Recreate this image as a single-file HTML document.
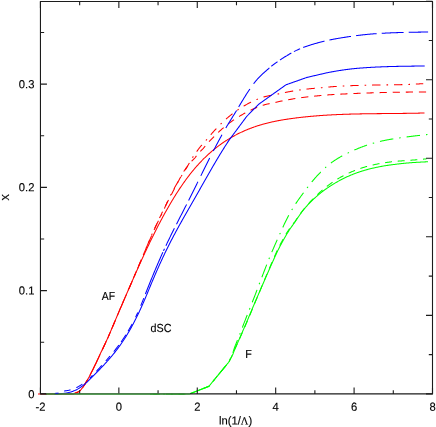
<!DOCTYPE html><html><head><meta charset="utf-8"><title>chart</title><style>
html,body{margin:0;padding:0;background:#fff;}
#c{will-change:transform;position:relative;width:436px;height:427px;overflow:hidden;font-family:"Liberation Sans",sans-serif;font-size:11.7px;color:#000;-webkit-text-stroke:0.15px #000;}
.t{position:absolute;left:0;top:0;white-space:nowrap;line-height:1;transform-origin:0 0;}
.sf{font-family:"Liberation Serif",serif;}
</style></head><body><div id="c">
<svg width="436" height="427" viewBox="0 0 436 427" style="position:absolute;left:0;top:0">
<path d="M38.00 393.90 L38.50 393.90 L39.00 393.90 L39.50 393.90 L40.00 393.90 L40.50 393.90 L41.00 393.90 L41.50 393.90 L42.00 393.90 L42.50 393.90 L43.00 393.90 L43.50 393.90 L44.00 393.90 L44.50 393.90 L45.00 393.90 L45.50 393.90 L46.00 393.90 L46.50 393.90 L47.00 393.90 L47.50 393.90 L48.00 393.90 L48.50 393.90 L49.00 393.90 L49.50 393.90 L50.00 393.90 L50.50 393.90 L51.00 393.90 L51.50 393.90 L52.00 393.90 L52.50 393.90 L53.00 393.90 L53.50 393.90 L54.00 393.90 L54.50 393.90 L55.00 393.90 L55.50 393.90 L56.00 393.90 L56.50 393.90 L57.00 393.90 L57.50 393.90 L58.00 393.90 L58.50 393.90 L59.00 393.90 L59.50 393.90 L60.00 393.90 L60.50 393.90 L61.00 393.90 L61.50 393.90 L62.00 393.90 L62.50 393.90 L63.00 393.90 L63.50 393.90 L64.00 393.90 L64.50 393.90 L65.00 393.90 L65.50 393.90 L66.00 393.90 L66.50 393.90 L67.00 393.90 L67.50 393.90 L68.00 393.90 L68.50 393.90 L69.00 393.90 L69.50 393.90 L70.00 393.90 L70.50 393.90 L71.00 393.90 L71.50 393.90 L72.00 393.90 L72.50 393.90 L73.00 393.90 L73.50 393.90 L74.00 393.74 L74.50 393.50 L75.00 393.27 L75.50 393.06 L76.00 392.84 L76.50 392.62 L77.00 392.39 L77.50 392.15 L78.00 391.88 L78.50 391.59 L79.00 391.26 L79.50 390.89 L80.00 390.48 L80.50 390.02 L81.00 389.52 L81.50 388.98 L82.00 388.39 L82.50 387.78 L83.00 387.13 L83.50 386.44 L84.00 385.73 L84.50 384.98 L85.00 384.21 L85.50 383.41 L86.00 382.58 L86.50 381.73 L87.00 380.86 L87.50 379.97 L88.00 379.05 L88.50 378.12 L89.00 377.17 L89.50 376.21 L90.00 375.24 L90.50 374.25 L91.00 373.25 L91.50 372.24 L92.00 371.23 L92.50 370.20 L93.00 369.18 L93.50 368.14 L94.00 367.11 L94.50 366.07 L95.00 365.03 L95.50 363.98 L96.00 362.92 L96.50 361.87 L97.00 360.81 L97.50 359.74 L98.00 358.68 L98.50 357.61 L99.00 356.53 L99.50 355.45 L100.00 354.37 L100.50 353.34 L101.00 352.30 L101.50 351.26 L102.00 350.21 L102.50 349.16 L103.00 348.11 L103.50 347.06 L104.00 346.00 L104.50 344.94 L105.00 343.88 L105.50 342.82 L106.00 341.75 L106.50 340.68 L107.00 339.61 L107.50 338.53 L108.00 337.46 L108.50 336.30 L109.00 335.13 L109.50 333.97 L110.00 332.80 L110.50 331.63 L111.00 330.46 L111.50 329.29 L112.00 328.11 L112.50 326.94 L113.00 325.76 L113.50 324.58 L114.00 323.40 L114.50 322.22 L115.00 321.04 L115.50 319.86 L116.00 318.67 L116.50 317.49 L117.00 316.30 L117.50 315.11 L118.00 313.93 L118.50 312.74 L119.00 311.55 L119.50 310.36 L120.00 309.17 L120.50 308.02 L121.00 306.86 L121.50 305.70 L122.00 304.55 L122.50 303.39 L123.00 302.23 L123.50 301.08 L124.00 299.92 L124.50 298.77 L125.00 297.61 L125.50 296.46 L126.00 295.30 L126.50 294.15 L127.00 293.00 L127.50 291.85 L128.00 290.69 L128.50 289.54 L129.00 288.39 L129.50 287.25 L130.00 286.10 L130.50 284.95 L131.00 283.81 L131.50 282.67 L132.00 281.53 L132.50 280.39 L133.00 279.25 L133.50 278.11 L134.00 276.98 L134.50 275.84 L135.00 274.71 L135.50 273.59 L136.00 272.46 L136.50 271.33 L137.00 270.21 L137.50 269.09 L138.00 267.97 L138.50 266.86 L139.00 265.75 L139.50 264.64 L140.00 263.53 L140.50 262.43 L141.00 261.32 L141.50 260.23 L142.00 259.13 L142.50 258.04 L143.00 256.95 L143.50 255.86 L144.00 254.78 L144.50 253.70 L145.00 252.63 L145.50 251.55 L146.00 250.48 L146.50 249.42 L147.00 248.36 L147.50 247.30 L148.00 246.25 L148.50 245.20 L149.00 244.15 L149.50 243.11 L150.00 242.08 L150.50 241.04 L151.00 240.01 L151.50 238.99 L152.00 237.97 L152.50 236.95 L153.00 235.94 L153.50 234.93 L154.00 233.93 L154.50 232.93 L155.00 231.93 L155.50 230.94 L156.00 229.96 L156.50 228.97 L157.00 228.00 L157.50 227.02 L158.00 226.05 L158.50 225.09 L159.00 224.13 L159.50 223.17 L160.00 222.22 L160.50 221.28 L161.00 220.33 L161.50 219.40 L162.00 218.46 L162.50 217.54 L163.00 216.61 L163.50 215.69 L164.00 214.78 L164.50 213.87 L165.00 212.97 L165.50 212.07 L166.00 211.17 L166.50 210.28 L167.00 209.40 L167.50 208.52 L168.00 207.64 L168.50 206.77 L169.00 205.90 L169.50 205.04 L170.00 204.19 L170.50 203.34 L171.00 202.49 L171.50 201.65 L172.00 200.82 L172.50 199.98 L173.00 199.16 L173.50 198.34 L174.00 197.52 L174.50 196.71 L175.00 195.91 L175.50 195.11 L176.00 194.32 L176.50 193.53 L177.00 192.74 L177.50 191.96 L178.00 191.19 L178.50 190.42 L179.00 189.66 L179.50 188.90 L180.00 188.15 L180.50 187.41 L181.00 186.67 L181.50 185.93 L182.00 185.20 L182.50 184.48 L183.00 183.76 L183.50 183.05 L184.00 182.34 L184.50 181.64 L185.00 180.94 L185.50 180.25 L186.00 179.56 L186.50 178.89 L187.00 178.21 L187.50 177.54 L188.00 176.88 L188.50 176.23 L189.00 175.58 L189.50 174.93 L190.00 174.29 L190.50 173.66 L191.00 173.03 L191.50 172.40 L192.00 171.79 L192.50 171.17 L193.00 170.57 L193.50 169.96 L194.00 169.37 L194.50 168.78 L195.00 168.19 L195.50 167.61 L196.00 167.03 L196.50 166.46 L197.00 165.90 L197.50 165.34 L198.00 164.78 L198.50 164.23 L199.00 163.68 L199.50 163.14 L200.00 162.61 L200.50 162.08 L201.00 161.55 L201.50 161.03 L202.00 160.51 L202.50 160.00 L203.00 159.49 L203.50 158.99 L204.00 158.49 L204.50 158.00 L205.00 157.51 L205.50 157.03 L206.00 156.55 L206.50 156.07 L207.00 155.60 L207.50 155.13 L208.00 154.67 L208.50 154.22 L209.00 153.76 L209.50 153.31 L210.00 152.87 L210.50 152.43 L211.00 151.99 L211.50 151.56 L212.00 151.13 L212.50 150.71 L213.00 150.29 L213.50 149.87 L214.00 149.46 L214.50 149.05 L215.00 148.65 L215.50 148.25 L216.00 147.86 L216.50 147.46 L217.00 147.07 L217.50 146.69 L218.00 146.31 L218.50 145.93 L219.00 145.56 L219.50 145.19 L220.00 144.83 L220.50 144.46 L221.00 144.10 L221.50 143.75 L222.00 143.40 L222.50 143.05 L223.00 142.71 L223.50 142.36 L224.00 142.03 L224.50 141.69 L225.00 141.36 L225.50 141.03 L226.00 140.71 L226.50 140.39 L227.00 140.07 L227.50 139.75 L228.00 139.44 L228.50 139.13 L229.00 138.83 L229.50 138.53 L230.00 138.23 L230.50 137.93 L231.00 137.64 L231.50 137.35 L232.00 137.06 L232.50 136.77 L233.00 136.49 L233.50 136.21 L234.00 135.94 L234.50 135.67 L235.00 135.40 L235.50 135.13 L236.00 134.86 L236.50 134.60 L237.00 134.34 L237.50 134.09 L238.00 133.83 L238.50 133.58 L239.00 133.33 L239.50 133.09 L240.00 132.85 L240.50 132.61 L241.00 132.37 L241.50 132.13 L242.00 131.90 L242.50 131.67 L243.00 131.44 L243.50 131.22 L244.00 131.00 L244.50 130.78 L245.00 130.56 L245.50 130.34 L246.00 130.13 L246.50 129.92 L247.00 129.71 L247.50 129.51 L248.00 129.31 L248.50 129.11 L249.00 128.91 L249.50 128.71 L250.00 128.52 L250.50 128.33 L251.00 128.14 L251.50 127.95 L252.00 127.77 L252.50 127.58 L253.00 127.40 L253.50 127.22 L254.00 127.05 L254.50 126.87 L255.00 126.70 L255.50 126.53 L256.00 126.36 L256.50 126.20 L257.00 126.03 L257.50 125.87 L258.00 125.71 L258.50 125.56 L259.00 125.40 L259.50 125.25 L260.00 125.09 L260.50 124.94 L261.00 124.80 L261.50 124.65 L262.00 124.50 L262.50 124.36 L263.00 124.22 L263.50 124.08 L264.00 123.94 L264.50 123.81 L265.00 123.67 L265.50 123.54 L266.00 123.41 L266.50 123.28 L267.00 123.16 L267.50 123.03 L268.00 122.91 L268.50 122.78 L269.00 122.66 L269.50 122.54 L270.00 122.43 L270.50 122.31 L271.00 122.19 L271.50 122.08 L272.00 121.97 L272.50 121.86 L273.00 121.75 L273.50 121.64 L274.00 121.54 L274.50 121.43 L275.00 121.33 L275.50 121.23 L276.00 121.12 L276.50 121.03 L277.00 120.93 L277.50 120.83 L278.00 120.73 L278.50 120.64 L279.00 120.55 L279.50 120.45 L280.00 120.36 L280.50 120.27 L281.00 120.18 L281.50 120.10 L282.00 120.01 L282.50 119.92 L283.00 119.84 L283.50 119.76 L284.00 119.67 L284.50 119.59 L285.00 119.51 L285.50 119.43 L286.00 119.36 L286.50 119.28 L287.00 119.20 L287.50 119.12 L288.00 119.05 L288.50 118.98 L289.00 118.90 L289.50 118.83 L290.00 118.76 L290.50 118.69 L291.00 118.62 L291.50 118.55 L292.00 118.48 L292.50 118.41 L293.00 118.34 L293.50 118.28 L294.00 118.21 L294.50 118.15 L295.00 118.08 L295.50 118.02 L296.00 117.95 L296.50 117.89 L297.00 117.83 L297.50 117.77 L298.00 117.71 L298.50 117.65 L299.00 117.59 L299.50 117.53 L300.00 117.47 L300.50 117.41 L301.00 117.35 L301.50 117.30 L302.00 117.24 L302.50 117.19 L303.00 117.13 L303.50 117.08 L304.00 117.02 L304.50 116.97 L305.00 116.92 L305.50 116.87 L306.00 116.81 L306.50 116.76 L307.00 116.71 L307.50 116.66 L308.00 116.61 L308.50 116.57 L309.00 116.52 L309.50 116.47 L310.00 116.42 L310.50 116.38 L311.00 116.33 L311.50 116.29 L312.00 116.24 L312.50 116.20 L313.00 116.15 L313.50 116.11 L314.00 116.07 L314.50 116.03 L315.00 115.98 L315.50 115.94 L316.00 115.90 L316.50 115.86 L317.00 115.82 L317.50 115.78 L318.00 115.74 L318.50 115.71 L319.00 115.67 L319.50 115.63 L320.00 115.60 L320.50 115.56 L321.00 115.52 L321.50 115.49 L322.00 115.45 L322.50 115.42 L323.00 115.38 L323.50 115.35 L324.00 115.32 L324.50 115.29 L325.00 115.25 L325.50 115.22 L326.00 115.19 L326.50 115.16 L327.00 115.13 L327.50 115.10 L328.00 115.07 L328.50 115.04 L329.00 115.01 L329.50 114.98 L330.00 114.96 L330.50 114.93 L331.00 114.90 L331.50 114.87 L332.00 114.85 L332.50 114.82 L333.00 114.80 L333.50 114.77 L334.00 114.75 L334.50 114.72 L335.00 114.70 L335.50 114.67 L336.00 114.65 L336.50 114.63 L337.00 114.60 L337.50 114.58 L338.00 114.56 L338.50 114.54 L339.00 114.52 L339.50 114.50 L340.00 114.48 L340.50 114.46 L341.00 114.44 L341.50 114.42 L342.00 114.40 L342.50 114.38 L343.00 114.36 L343.50 114.34 L344.00 114.32 L344.50 114.31 L345.00 114.29 L345.50 114.27 L346.00 114.25 L346.50 114.24 L347.00 114.22 L347.50 114.21 L348.00 114.19 L348.50 114.17 L349.00 114.16 L349.50 114.14 L350.00 114.13 L350.50 114.12 L351.00 114.10 L351.50 114.09 L352.00 114.07 L352.50 114.06 L353.00 114.05 L353.50 114.03 L354.00 114.02 L354.50 114.01 L355.00 114.00 L355.50 113.99 L356.00 113.97 L356.50 113.96 L357.00 113.95 L357.50 113.94 L358.00 113.93 L358.50 113.92 L359.00 113.91 L359.50 113.90 L360.00 113.89 L360.50 113.88 L361.00 113.87 L361.50 113.86 L362.00 113.85 L362.50 113.84 L363.00 113.83 L363.50 113.82 L364.00 113.82 L364.50 113.81 L365.00 113.80 L365.50 113.79 L366.00 113.78 L366.50 113.78 L367.00 113.77 L367.50 113.76 L368.00 113.75 L368.50 113.75 L369.00 113.74 L369.50 113.73 L370.00 113.73 L370.50 113.72 L371.00 113.71 L371.50 113.71 L372.00 113.70 L372.50 113.69 L373.00 113.69 L373.50 113.68 L374.00 113.68 L374.50 113.67 L375.00 113.66 L375.50 113.66 L376.00 113.65 L376.50 113.65 L377.00 113.64 L377.50 113.64 L378.00 113.63 L378.50 113.63 L379.00 113.62 L379.50 113.62 L380.00 113.61 L380.50 113.61 L381.00 113.60 L381.50 113.60 L382.00 113.59 L382.50 113.59 L383.00 113.58 L383.50 113.58 L384.00 113.58 L384.50 113.57 L385.00 113.57 L385.50 113.56 L386.00 113.56 L386.50 113.55 L387.00 113.55 L387.50 113.54 L388.00 113.54 L388.50 113.54 L389.00 113.53 L389.50 113.53 L390.00 113.52 L390.50 113.52 L391.00 113.51 L391.50 113.51 L392.00 113.50 L392.50 113.50 L393.00 113.49 L393.50 113.49 L394.00 113.49 L394.50 113.48 L395.00 113.48 L395.50 113.47 L396.00 113.47 L396.50 113.46 L397.00 113.46 L397.50 113.45 L398.00 113.45 L398.50 113.44 L399.00 113.44 L399.50 113.43 L400.00 113.43 L400.50 113.42 L401.00 113.41 L401.50 113.41 L402.00 113.40 L402.50 113.40 L403.00 113.39 L403.50 113.39 L404.00 113.38 L404.50 113.37 L405.00 113.37 L405.50 113.36 L406.00 113.35 L406.50 113.35 L407.00 113.34 L407.50 113.33 L408.00 113.33 L408.50 113.32 L409.00 113.31 L409.50 113.30 L410.00 113.30 L410.50 113.29 L411.00 113.28 L411.50 113.27 L412.00 113.26 L412.50 113.25 L413.00 113.25 L413.50 113.24 L414.00 113.23 L414.50 113.22 L415.00 113.21 L415.50 113.20 L416.00 113.19 L416.50 113.18 L417.00 113.17 L417.50 113.16 L418.00 113.15 L418.50 113.14 L419.00 113.13 L419.50 113.12 L420.00 113.10 L420.50 113.09 L421.00 113.08 L421.50 113.07 L422.00 113.06 L422.50 113.04 L423.00 113.03 L423.50 113.02 L424.00 113.01 L424.50 112.99" fill="none" stroke="#ff0000" stroke-width="1.05"/>
<path d="M74.50 393.38 L74.50 393.37 L75.00 393.10 L75.50 392.88 L76.00 392.68 L76.50 392.51 L77.00 392.34 L77.50 392.16 L78.00 391.97 L78.50 391.74 L79.00 391.47 L79.50 391.13 L80.00 390.73 L80.50 390.25 L80.75 389.99 M84.18 385.20 L84.20 385.17 L84.70 384.37 L85.20 383.55 L85.70 382.72 L86.20 381.88 L86.70 381.03 L87.20 380.17 L87.70 379.29 L87.86 379.01 M90.68 373.83 L90.70 373.78 L91.20 372.83 L91.71 371.87 L92.21 370.89 L92.71 369.91 L93.21 368.92 L93.71 367.92 L93.95 367.42 M96.53 362.11 L96.61 361.96 L97.11 360.90 L97.61 359.85 L98.11 358.78 L98.61 357.71 L99.11 356.63 L99.59 355.59 M102.11 350.26 L102.21 350.06 L102.71 349.00 L103.21 347.94 L103.71 346.87 L104.21 345.80 L104.71 344.73 L105.17 343.74 M107.65 338.38 L107.71 338.25 L108.21 337.13 L108.71 335.96 L109.21 334.79 L109.71 333.62 L110.21 332.44 L110.50 331.77 M112.80 326.34 L112.81 326.32 L113.31 325.14 L113.81 323.96 L114.31 322.78 L114.81 321.60 L115.31 320.42 L115.61 319.71 M117.90 314.27 L117.91 314.25 L118.41 313.06 L118.91 311.87 L119.41 310.68 L119.91 309.49 L120.41 308.32 L120.71 307.64 M123.04 302.22 L123.11 302.05 L123.61 300.89 L124.11 299.73 L124.61 298.56 L125.11 297.40 L125.61 296.24 L125.88 295.61 M128.21 290.19 L128.22 290.17 L128.72 289.01 L129.22 287.84 L129.72 286.67 L130.22 285.50 L130.72 284.33 L131.04 283.57 M133.37 278.14 L133.42 278.02 L133.92 276.85 L134.42 275.69 L134.92 274.52 L135.42 273.35 L135.92 272.18 L136.20 271.52 M138.52 266.10 L138.52 266.10 L139.02 264.93 L139.52 263.76 L140.02 262.59 L140.52 261.42 L141.02 260.25 L141.35 259.48 M143.67 254.06 L143.72 253.95 L144.22 252.79 L144.72 251.62 L145.22 250.46 L145.72 249.29 L146.22 248.13 L146.51 247.44 M148.85 242.02 L148.92 241.85 L149.42 240.69 L149.92 239.54 L150.42 238.38 L150.92 237.23 L151.42 236.09 L151.71 235.42 M154.09 230.02 L154.12 229.94 L154.62 228.82 L155.12 227.70 L155.62 226.58 L156.12 225.47 L156.62 224.37 L157.04 223.45 M159.52 218.09 L159.52 218.08 L160.02 217.01 L160.52 215.96 L161.02 214.91 L161.52 213.87 L162.02 212.84 L162.53 211.82 L162.63 211.60 M165.27 206.33 L165.33 206.21 L165.83 205.23 L166.33 204.25 L166.83 203.28 L167.33 202.31 L167.83 201.34 L168.33 200.38 L168.56 199.92 M171.29 194.69 L171.33 194.63 L171.83 193.67 L172.33 192.72 L172.83 191.76 L173.33 190.80 L173.83 189.85 L174.33 188.89 L174.63 188.31 M177.38 183.09 L177.43 183.01 L177.93 182.07 L178.43 181.13 L178.93 180.20 L179.43 179.27 L179.93 178.34 L180.43 177.42 L180.80 176.76 M183.67 171.60 L183.73 171.49 L184.23 170.69 L184.73 169.99 L185.23 169.30 L185.73 168.61 L186.23 167.93 L186.73 167.26 L187.23 166.60 L187.73 165.95 L187.88 165.76 M191.65 161.23 L191.73 161.14 L192.23 160.60 L192.73 160.07 L193.23 159.55 L193.73 159.04 L194.23 158.55 L194.73 158.07 L195.23 157.50 L195.73 156.84 L196.23 156.19 L196.46 155.90 M200.32 151.44 L200.34 151.42 L200.84 150.91 L201.34 150.40 L201.84 149.91 L202.34 149.43 L202.84 148.95 L203.34 148.38 L203.84 147.77 L204.34 147.17 L204.84 146.57 L205.19 146.15 M209.03 141.66 L209.04 141.65 L209.54 141.11 L210.04 140.63 L210.54 140.14 L211.04 139.65 L211.54 139.15 L212.04 138.65 L212.54 138.14 L213.04 137.62 L213.54 137.10 L214.04 136.58 L214.08 136.54 M218.32 132.43 L218.34 132.40 L218.84 131.92 L219.34 131.43 L219.84 130.95 L220.34 130.49 L220.84 130.04 L221.34 129.59 L221.84 129.15 L222.34 128.71 L222.84 128.28 L223.34 127.85 L223.65 127.59 M228.24 123.89 L228.34 123.82 L228.84 123.44 L229.34 123.06 L229.84 122.69 L230.34 122.32 L230.84 121.96 L231.34 121.60 L231.84 121.24 L232.34 120.89 L232.85 120.54 L233.35 120.19 L233.85 119.85 L234.09 119.69 M239.05 116.50 L239.15 116.44 L239.65 116.13 L240.15 115.83 L240.65 115.54 L241.15 115.24 L241.65 114.95 L242.15 114.67 L242.65 114.38 L243.15 114.10 L243.65 113.82 L244.15 113.54 L244.65 113.27 L245.15 113.00 L245.30 112.92 M250.56 110.26 L250.65 110.22 L251.15 109.98 L251.65 109.75 L252.15 109.52 L252.65 109.29 L253.15 109.06 L253.65 108.84 L254.15 108.62 L254.65 108.40 L255.15 108.19 L255.65 107.97 L256.15 107.76 L256.65 107.56 L257.15 107.35 M262.67 105.30 L262.75 105.27 L263.25 105.14 L263.75 105.00 L264.25 104.87 L264.75 104.74 L265.25 104.61 L265.75 104.48 L266.25 104.36 L266.75 104.23 L267.25 104.11 L267.75 103.99 L268.26 103.88 L268.76 103.76 L269.26 103.65 L269.66 103.56 M275.44 102.40 L275.46 102.39 L275.96 102.27 L276.46 102.14 L276.96 102.02 L277.46 101.90 L277.96 101.79 L278.46 101.67 L278.96 101.56 L279.46 101.45 L279.96 101.33 L280.46 101.23 L280.96 101.12 L281.46 101.01 L281.96 100.91 L282.46 100.81 L282.47 100.80 M288.27 99.73 L288.36 99.71 L288.86 99.63 L289.36 99.55 L289.86 99.46 L290.36 99.38 L290.86 99.28 L291.36 99.20 L291.86 99.11 L292.36 99.02 L292.86 98.93 L293.36 98.85 L293.86 98.77 L294.36 98.68 L294.86 98.60 L295.36 98.52 L295.36 98.52 M301.20 97.67 L301.26 97.66 L301.76 97.59 L302.26 97.53 L302.76 97.46 L303.26 97.40 L303.77 97.33 L304.27 97.27 L304.77 97.21 L305.27 97.15 L305.77 97.09 L306.27 97.03 L306.77 96.97 L307.27 96.91 L307.77 96.85 L308.27 96.80 L308.35 96.79 M314.22 96.17 L314.27 96.16 L314.77 96.11 L315.27 96.06 L315.77 96.01 L316.27 95.97 L316.77 95.92 L317.27 95.87 L317.77 95.82 L318.27 95.78 L318.77 95.73 L319.27 95.68 L319.77 95.64 L320.27 95.59 L320.77 95.55 L321.27 95.50 L321.38 95.49 M327.26 94.97 L327.27 94.97 L327.77 94.93 L328.27 94.89 L328.77 94.84 L329.27 94.80 L329.77 94.76 L330.27 94.72 L330.77 94.69 L331.27 94.67 L331.77 94.64 L332.27 94.61 L332.77 94.58 L333.27 94.55 L333.77 94.52 L334.27 94.49 L334.44 94.48 M340.33 94.17 L340.38 94.16 L340.88 94.14 L341.38 94.11 L341.88 94.09 L342.38 94.06 L342.88 94.03 L343.38 94.01 L343.88 93.98 L344.38 93.96 L344.88 93.94 L345.38 93.91 L345.88 93.89 L346.38 93.86 L346.88 93.84 L347.38 93.82 L347.53 93.81 M353.42 93.54 L353.48 93.54 L353.98 93.52 L354.48 93.50 L354.98 93.47 L355.48 93.45 L355.98 93.43 L356.48 93.41 L356.98 93.39 L357.48 93.37 L357.98 93.35 L358.48 93.33 L358.98 93.31 L359.48 93.29 L359.98 93.27 L360.48 93.25 L360.61 93.25 M366.51 93.03 L366.58 93.03 L367.08 93.01 L367.58 92.99 L368.08 92.97 L368.58 92.96 L369.08 92.94 L369.58 92.92 L370.08 92.91 L370.58 92.89 L371.08 92.88 L371.58 92.86 L372.08 92.84 L372.58 92.83 L373.08 92.81 L373.58 92.80 L373.71 92.79 M379.60 92.62 L379.69 92.62 L380.19 92.61 L380.69 92.60 L381.19 92.58 L381.69 92.57 L382.19 92.56 L382.69 92.55 L383.19 92.53 L383.69 92.52 L384.19 92.51 L384.69 92.50 L385.19 92.48 L385.69 92.47 L386.19 92.46 L386.69 92.45 L386.80 92.45 M392.70 92.33 L392.79 92.32 L393.29 92.31 L393.79 92.31 L394.29 92.30 L394.79 92.29 L395.29 92.28 L395.79 92.27 L396.29 92.26 L396.79 92.25 L397.29 92.25 L397.79 92.24 L398.29 92.23 L398.79 92.22 L399.29 92.21 L399.79 92.21 L399.90 92.20 M405.80 92.13 L405.89 92.13 L406.39 92.12 L406.89 92.12 L407.39 92.11 L407.89 92.11 L408.39 92.10 L408.89 92.10 L409.40 92.09 L409.90 92.09 L410.40 92.08 L410.90 92.08 L411.40 92.07 L411.90 92.07 L412.40 92.07 L412.90 92.06 L413.00 92.06 M418.90 92.03 L419.00 92.03 L419.50 92.03 L420.00 92.02 L420.50 92.02 L421.00 92.02 L421.50 92.02 L422.00 92.02 L422.50 92.02 L423.00 92.02 L423.50 92.01 L424.00 92.01 L424.50 92.01 L425.00 92.01 L425.50 92.01 L426.00 92.01 L426.10 92.01" fill="none" stroke="#ff0000" stroke-width="1.05"/>
<path d="M76.85 392.44 L76.90 392.42 L77.40 392.23 L77.90 392.02 L78.32 391.82 M82.50 387.74 L82.50 387.74 L83.00 387.03 L83.50 386.29 L84.00 385.52 L84.50 384.74 L85.00 383.95 L85.50 383.13 L86.00 382.31 L86.50 381.47 L86.99 380.64 M89.91 375.40 L90.00 375.22 L90.50 374.27 L90.66 373.99 M93.34 368.73 L93.41 368.60 L93.91 367.59 L94.41 366.57 L94.91 365.54 L95.41 364.50 L95.91 363.45 L96.41 362.40 L96.91 361.34 L96.99 361.17 M99.51 355.72 L99.51 355.72 L100.01 354.62 L100.18 354.27 M102.69 348.93 L102.71 348.89 L103.21 347.82 L103.71 346.75 L104.21 345.67 L104.71 344.59 L105.21 343.51 L105.71 342.43 L106.21 341.35 L106.23 341.31 M108.70 335.84 L108.71 335.81 L109.21 334.64 L109.32 334.37 M111.65 328.95 L111.71 328.80 L112.21 327.63 L112.71 326.46 L113.21 325.29 L113.71 324.12 L114.21 322.94 L114.71 321.77 L114.95 321.22 M117.30 315.70 L117.31 315.67 L117.81 314.50 L117.92 314.23 M120.24 308.80 L120.31 308.63 L120.81 307.49 L121.31 306.34 L121.81 305.19 L122.31 304.04 L122.81 302.90 L123.31 301.75 L123.59 301.10 M125.98 295.60 L126.01 295.53 L126.52 294.37 L126.62 294.13 M128.96 288.72 L129.02 288.59 L129.52 287.43 L130.02 286.27 L130.52 285.10 L131.02 283.94 L131.52 282.78 L132.02 281.61 L132.28 281.00 M134.64 275.48 L134.72 275.30 L135.22 274.13 L135.27 274.01 M137.58 268.58 L137.62 268.48 L138.12 267.31 L138.62 266.12 L139.12 264.94 L139.62 263.76 L140.12 262.57 L140.62 261.39 L140.85 260.85 M143.17 255.31 L143.22 255.20 L143.72 254.00 L143.79 253.84 M146.06 248.39 L146.12 248.25 L146.62 247.05 L147.12 245.84 L147.62 244.64 L148.12 243.43 L148.62 242.23 L149.12 241.03 L149.29 240.64 M151.63 235.12 L151.72 234.91 L152.22 233.77 L152.27 233.65 M154.71 228.27 L154.72 228.24 L155.22 227.19 L155.72 226.15 L156.22 225.14 L156.72 224.15 L157.22 223.17 L157.72 222.21 L158.22 221.25 L158.48 220.77 M161.21 215.43 L161.23 215.41 L161.73 214.37 L161.91 213.99 M164.34 208.62 L164.43 208.43 L164.93 207.30 L165.43 206.16 L165.93 205.04 L166.43 203.92 L166.93 202.82 L167.43 201.73 L167.79 200.95 M170.42 195.56 L170.43 195.54 L170.93 194.56 L171.15 194.14 M173.92 188.93 L173.93 188.92 L174.43 188.02 L174.93 187.12 L175.43 186.24 L175.93 185.36 L176.43 184.49 L176.93 183.63 L177.43 182.78 L177.93 181.93 L178.10 181.64 M181.19 176.50 L181.23 176.44 L181.73 175.62 L182.03 175.14 M185.14 170.12 L185.23 169.98 L185.73 169.19 L186.23 168.36 L186.73 167.50 L187.23 166.64 L187.73 165.79 L188.23 164.94 L188.73 164.09 L189.23 163.25 L189.44 162.91 M192.48 157.74 L192.53 157.66 L193.03 156.83 L193.34 156.39 M196.73 151.56 L196.74 151.56 L197.24 150.87 L197.74 150.18 L198.24 149.49 L198.74 148.81 L199.24 148.14 L199.74 147.47 L200.24 146.84 L200.74 146.26 L201.24 145.69 L201.74 145.12 L201.89 144.94 M205.94 140.51 L205.94 140.51 L206.44 139.90 L206.94 139.28 L206.95 139.27 M210.74 134.75 L210.84 134.64 L211.34 134.06 L211.84 133.49 L212.34 132.92 L212.84 132.36 L213.34 131.80 L213.84 131.25 L214.34 130.70 L214.84 130.15 L215.34 129.61 L215.84 129.07 L216.34 128.54 L216.37 128.51 M220.56 124.23 L220.64 124.15 L221.14 123.66 L221.64 123.17 L221.71 123.11 M226.04 119.10 L226.04 119.10 L226.54 118.66 L227.04 118.22 L227.54 117.79 L228.04 117.36 L228.54 116.94 L229.04 116.52 L229.54 116.10 L230.04 115.69 L230.54 115.29 L231.05 114.89 L231.55 114.49 L232.05 114.10 L232.50 113.74 M237.34 110.20 L237.35 110.20 L237.85 109.85 L238.35 109.51 L238.67 109.30 M243.65 106.14 L243.75 106.09 L244.25 105.79 L244.75 105.50 L245.25 105.21 L245.75 104.93 L246.25 104.64 L246.75 104.37 L247.25 104.09 L247.75 103.82 L248.25 103.55 L248.75 103.29 L249.25 103.03 L249.75 102.77 L250.25 102.52 L250.75 102.27 L251.03 102.13 M256.48 99.62 L256.55 99.58 L257.05 99.37 L257.55 99.16 L257.95 99.00 M263.50 97.01 L263.55 97.00 L264.05 96.87 L264.55 96.74 L265.05 96.62 L265.55 96.49 L266.06 96.37 L266.56 96.26 L267.06 96.14 L267.56 96.03 L268.06 95.92 L268.56 95.81 L269.06 95.70 L269.56 95.60 L270.06 95.50 L270.56 95.40 L271.06 95.30 L271.56 95.20 L271.69 95.17 M277.60 94.13 L277.66 94.11 L278.16 93.99 L278.66 93.87 L279.16 93.76 M284.93 92.51 L284.96 92.51 L285.46 92.41 L285.96 92.31 L286.46 92.21 L286.96 92.12 L287.46 92.02 L287.96 91.93 L288.46 91.83 L288.96 91.74 L289.46 91.65 L289.96 91.56 L290.46 91.47 L290.96 91.38 L291.46 91.29 L291.96 91.21 L292.46 91.12 L292.96 91.04 L293.19 91.00 M299.12 90.09 L299.16 90.08 L299.66 90.01 L300.16 89.94 L300.66 89.87 L300.70 89.87 M306.56 89.13 L306.57 89.13 L307.07 89.07 L307.57 89.01 L308.07 88.96 L308.57 88.90 L309.07 88.85 L309.57 88.80 L310.07 88.74 L310.57 88.69 L311.07 88.64 L311.57 88.59 L312.07 88.54 L312.57 88.49 L313.07 88.44 L313.57 88.40 L314.07 88.35 L314.57 88.30 L314.91 88.27 M320.89 87.76 L320.97 87.75 L321.47 87.70 L321.97 87.65 L322.47 87.60 L322.48 87.60 M328.36 87.05 L328.37 87.05 L328.87 87.00 L329.37 86.96 L329.87 86.92 L330.37 86.88 L330.87 86.84 L331.37 86.80 L331.87 86.76 L332.37 86.72 L332.87 86.68 L333.37 86.64 L333.87 86.60 L334.37 86.57 L334.87 86.53 L335.37 86.49 L335.88 86.46 L336.38 86.42 L336.73 86.40 M342.72 86.01 L342.78 86.01 L343.28 85.98 L343.78 85.95 L344.28 85.92 L344.32 85.92 M350.21 85.68 L350.28 85.68 L350.78 85.67 L351.28 85.65 L351.78 85.63 L352.28 85.62 L352.78 85.60 L353.28 85.58 L353.78 85.57 L354.28 85.55 L354.78 85.54 L355.28 85.52 L355.78 85.51 L356.28 85.49 L356.78 85.48 L357.28 85.47 L357.78 85.45 L358.28 85.44 L358.61 85.43 M364.60 85.28 L364.68 85.28 L365.18 85.27 L365.68 85.26 L366.18 85.24 L366.20 85.24 M372.10 85.11 L372.19 85.11 L372.69 85.10 L373.19 85.09 L373.69 85.08 L374.19 85.07 L374.69 85.06 L375.19 85.05 L375.69 85.03 L376.19 85.02 L376.69 85.01 L377.19 85.00 L377.69 84.99 L378.19 84.98 L378.69 84.97 L379.19 84.96 L379.69 84.94 L380.19 84.94 L380.50 84.93 M386.50 84.89 L386.59 84.89 L387.09 84.88 L387.59 84.88 L388.09 84.87 L388.10 84.87 M394.00 84.79 L394.09 84.79 L394.59 84.78 L395.09 84.77 L395.59 84.76 L396.09 84.75 L396.59 84.74 L397.09 84.74 L397.59 84.72 L398.09 84.71 L398.59 84.70 L399.09 84.69 L399.59 84.68 L400.09 84.67 L400.59 84.66 L401.09 84.64 L401.59 84.63 L402.09 84.62 L402.40 84.61 M408.39 84.42 L408.40 84.42 L408.90 84.40 L409.40 84.38 L409.90 84.36 L409.99 84.35 M415.89 84.08 L415.90 84.08 L416.40 84.05 L416.90 84.02 L417.40 84.00 L417.90 83.97 L418.40 83.94 L418.90 83.91 L419.40 83.88 L419.90 83.85 L420.40 83.82 L420.90 83.78 L421.40 83.75 L421.90 83.72 L422.40 83.68 L422.90 83.65 L423.20 83.64" fill="none" stroke="#ff0000" stroke-width="1.05"/>
<path d="M54.00 393.80 L54.50 393.80 L55.00 393.81 L55.50 393.82 L56.00 393.82 L56.50 393.82 L57.00 393.81 L57.50 393.81 L58.00 393.80 L58.50 393.78 L59.00 393.77 L59.50 393.75 L60.00 393.73 L60.50 393.70 L61.00 393.67 L61.50 393.63 L62.00 393.59 L62.50 393.54 L63.00 393.49 L63.51 393.44 L64.01 393.38 L64.51 393.31 L65.01 393.24 L65.51 393.17 L66.01 393.08 L66.51 392.99 L67.01 392.90 L67.51 392.80 L68.01 392.69 L68.51 392.58 L69.01 392.45 L69.51 392.33 L70.01 392.19 L70.51 392.05 L71.01 391.89 L71.51 391.74 L72.01 391.57 L72.51 391.39 L73.01 391.21 L73.51 391.02 L74.01 390.82 L74.51 390.61 L75.01 390.39 L75.51 390.16 L76.01 389.92 L76.51 389.68 L77.01 389.42 L77.51 389.15 L78.01 388.88 L78.51 388.59 L79.01 388.29 L79.51 387.99 L80.01 387.67 L80.51 387.34 L81.01 387.00 L81.51 386.65 L82.02 386.28 L82.52 385.91 L83.02 385.52 L83.52 385.12 L84.02 384.71 L84.52 384.29 L85.02 383.86 L85.52 383.42 L86.02 382.98 L86.52 382.52 L87.02 382.06 L87.52 381.59 L88.02 381.12 L88.52 380.64 L89.02 380.16 L89.52 379.67 L90.02 379.18 L90.52 378.69 L91.02 378.20 L91.52 377.71 L92.02 377.21 L92.52 376.71 L93.02 376.21 L93.52 375.71 L94.02 375.21 L94.52 374.70 L95.02 374.20 L95.52 373.69 L96.02 373.18 L96.52 372.67 L97.02 372.15 L97.52 371.64 L98.02 371.12 L98.52 370.60 L99.02 370.08 L99.52 369.56 L100.02 369.04 L100.53 368.51 L101.03 367.98 L101.53 367.45 L102.03 366.92 L102.53 366.39 L103.03 365.85 L103.53 365.32 L104.03 364.78 L104.53 364.24 L105.03 363.69 L105.53 363.15 L106.03 362.60 L106.53 362.05 L107.03 361.49 L107.53 360.93 L108.03 360.37 L108.53 359.81 L109.03 359.24 L109.53 358.66 L110.03 358.09 L110.53 357.51 L111.03 356.92 L111.53 356.33 L112.03 355.73 L112.53 355.13 L113.03 354.53 L113.53 353.92 L114.03 353.30 L114.53 352.68 L115.03 352.05 L115.53 351.42 L116.03 350.78 L116.53 350.13 L117.03 349.48 L117.53 348.82 L118.03 348.15 L118.53 347.47 L119.04 346.79 L119.54 346.10 L120.04 345.41 L120.54 344.70 L121.04 343.99 L121.54 343.27 L122.04 342.54 L122.54 341.81 L123.04 341.06 L123.54 340.31 L124.04 339.54 L124.54 338.77 L125.04 337.99 L125.54 337.20 L126.04 336.39 L126.54 335.58 L127.04 334.76 L127.54 333.94 L128.04 333.10 L128.54 332.25 L129.04 331.39 L129.54 330.53 L130.04 329.65 L130.54 328.76 L131.04 327.87 L131.54 326.96 L132.04 326.05 L132.54 325.12 L133.04 324.18 L133.54 323.24 L134.04 322.28 L134.54 321.32 L135.04 320.34 L135.54 319.36 L136.04 318.36 L136.54 317.36 L137.04 316.34 L137.55 315.32 L138.05 314.28 L138.55 313.23 L139.05 312.18 L139.55 311.11 L140.05 310.03 L140.55 308.94 L141.05 307.84 L141.55 306.73 L142.05 305.61 L142.55 304.48 L143.05 303.34 L143.55 302.19 L144.05 301.03 L144.55 299.87 L145.05 298.69 L145.55 297.51 L146.05 296.33 L146.55 295.13 L147.05 293.94 L147.55 292.74 L148.05 291.54 L148.55 290.33 L149.05 289.13 L149.55 287.92 L150.05 286.72 L150.55 285.52 L151.05 284.32 L151.55 283.12 L152.05 281.92 L152.55 280.73 L153.05 279.55 L153.55 278.37 L154.05 277.19 L154.55 276.02 L155.05 274.86 L155.55 273.70 L156.06 272.55 L156.56 271.40 L157.06 270.26 L157.56 269.13 L158.06 268.00 L158.56 266.88 L159.06 265.76 L159.56 264.65 L160.06 263.55 L160.56 262.45 L161.06 261.36 L161.56 260.27 L162.06 259.19 L162.56 258.12 L163.06 257.05 L163.56 255.99 L164.06 254.93 L164.56 253.89 L165.06 252.84 L165.56 251.81 L166.06 250.78 L166.56 249.76 L167.06 248.74 L167.56 247.73 L168.06 246.73 L168.56 245.73 L169.06 244.73 L169.56 243.75 L170.06 242.76 L170.56 241.79 L171.06 240.82 L171.56 239.85 L172.06 238.89 L172.56 237.93 L173.06 236.98 L173.56 236.03 L174.06 235.09 L174.57 234.15 L175.07 233.21 L175.57 232.28 L176.07 231.36 L176.57 230.43 L177.07 229.51 L177.57 228.60 L178.07 227.68 L178.57 226.77 L179.07 225.87 L179.57 224.96 L180.07 224.06 L180.57 223.16 L181.07 222.27 L181.57 221.38 L182.07 220.48 L182.57 219.60 L183.07 218.71 L183.57 217.82 L184.07 216.94 L184.57 216.06 L185.07 215.18 L185.57 214.30 L186.07 213.42 L186.57 212.55 L187.07 211.67 L187.57 210.80 L188.07 209.92 L188.57 209.05 L189.07 208.18 L189.57 207.30 L190.07 206.43 L190.57 205.56 L191.07 204.69 L191.57 203.81 L192.07 202.94 L192.57 202.07 L193.08 201.19 L193.58 200.32 L194.08 199.44 L194.58 198.57 L195.08 197.69 L195.58 196.81 L196.08 195.93 L196.58 195.05 L197.08 194.17 L197.58 193.29 L198.08 192.41 L198.58 191.52 L199.08 190.64 L199.58 189.76 L200.08 188.87 L200.58 187.99 L201.08 187.10 L201.58 186.22 L202.08 185.34 L202.58 184.45 L203.08 183.57 L203.58 182.68 L204.08 181.80 L204.58 180.92 L205.08 180.04 L205.58 179.16 L206.08 178.28 L206.58 177.40 L207.08 176.52 L207.58 175.64 L208.08 174.77 L208.58 173.89 L209.08 173.02 L209.58 172.14 L210.08 171.27 L210.58 170.40 L211.08 169.54 L211.59 168.67 L212.09 167.81 L212.59 166.95 L213.09 166.09 L213.59 165.23 L214.09 164.37 L214.59 163.52 L215.09 162.67 L215.59 161.82 L216.09 160.97 L216.59 160.13 L217.09 159.29 L217.59 158.45 L218.09 157.61 L218.59 156.78 L219.09 155.95 L219.59 155.13 L220.09 154.30 L220.59 153.49 L221.09 152.67 L221.59 151.86 L222.09 151.05 L222.59 150.24 L223.09 149.44 L223.59 148.64 L224.09 147.85 L224.59 147.06 L225.09 146.27 L225.59 145.49 L226.09 144.71 L226.59 143.94 L227.09 143.17 L227.59 142.41 L228.09 141.65 L228.59 140.90 L229.09 140.15 L229.59 139.44 L230.10 138.77 L230.60 138.10 L231.10 137.42 L231.60 136.75 L232.10 136.08 L232.60 135.40 L233.10 134.73 L233.60 134.06 L234.10 133.39 L234.60 132.71 L235.10 132.04 L235.60 131.37 L236.10 130.69 L236.60 130.02 L237.10 129.35 L237.60 128.68 L238.10 128.00 L238.60 127.33 L239.10 126.66 L239.60 125.98 L240.10 125.31 L240.60 124.64 L241.10 123.97 L241.60 123.29 L242.10 122.62 L242.60 121.95 L243.10 121.27 L243.60 120.60 L244.10 119.93 L244.60 119.26 L245.10 118.58 L245.60 117.91 L246.10 117.24 L246.60 116.56 L247.10 116.00 L247.60 115.50 L248.10 115.00 L248.60 114.50 L249.11 113.99 L249.61 113.49 L250.11 112.99 L250.61 112.49 L251.11 111.99 L251.61 111.49 L252.11 110.99 L252.61 110.49 L253.11 109.99 L253.61 109.49 L254.11 108.99 L254.61 108.49 L255.11 107.99 L255.61 107.49 L256.11 106.99 L256.61 106.49 L257.11 105.99 L257.61 105.49 L258.11 104.99 L258.61 104.49 L259.11 103.99 L259.61 103.61 L260.11 103.25 L260.61 102.89 L261.11 102.54 L261.61 102.18 L262.11 101.82 L262.61 101.47 L263.11 101.11 L263.61 100.75 L264.11 100.40 L264.61 100.04 L265.11 99.69 L265.61 99.33 L266.11 98.97 L266.61 98.62 L267.11 98.26 L267.62 97.90 L268.12 97.55 L268.62 97.19 L269.12 96.83 L269.62 96.48 L270.12 96.12 L270.62 95.76 L271.12 95.41 L271.62 95.05 L272.12 94.69 L272.62 94.34 L273.12 93.98 L273.62 93.62 L274.12 93.27 L274.62 92.91 L275.12 92.55 L275.62 92.20 L276.12 91.84 L276.62 91.48 L277.12 91.13 L277.62 90.77 L278.12 90.42 L278.62 90.06 L279.12 89.70 L279.62 89.35 L280.12 88.99 L280.62 88.63 L281.12 88.28 L281.62 87.92 L282.12 87.56 L282.62 87.21 L283.12 86.85 L283.62 86.49 L284.12 86.14 L284.62 85.78 L285.12 85.42 L285.62 85.07 L286.13 84.76 L286.63 84.58 L287.13 84.40 L287.63 84.23 L288.13 84.05 L288.63 83.87 L289.13 83.70 L289.63 83.52 L290.13 83.35 L290.63 83.17 L291.13 82.99 L291.63 82.82 L292.13 82.64 L292.63 82.46 L293.13 82.29 L293.63 82.11 L294.13 81.94 L294.63 81.76 L295.13 81.58 L295.63 81.41 L296.13 81.23 L296.63 81.05 L297.13 80.88 L297.63 80.70 L298.13 80.53 L298.63 80.35 L299.13 80.17 L299.63 80.00 L300.13 79.82 L300.63 79.64 L301.13 79.47 L301.63 79.29 L302.13 79.11 L302.63 78.94 L303.13 78.76 L303.63 78.59 L304.13 78.41 L304.64 78.23 L305.14 78.06 L305.64 77.88 L306.14 77.70 L306.64 77.53 L307.14 77.37 L307.64 77.25 L308.14 77.14 L308.64 77.02 L309.14 76.90 L309.64 76.79 L310.14 76.67 L310.64 76.56 L311.14 76.44 L311.64 76.32 L312.14 76.21 L312.64 76.09 L313.14 75.98 L313.64 75.86 L314.14 75.75 L314.64 75.63 L315.14 75.51 L315.64 75.40 L316.14 75.28 L316.64 75.17 L317.14 75.05 L317.64 74.93 L318.14 74.82 L318.64 74.70 L319.14 74.59 L319.64 74.47 L320.14 74.35 L320.64 74.24 L321.14 74.12 L321.64 74.01 L322.14 73.89 L322.64 73.77 L323.15 73.66 L323.65 73.54 L324.15 73.43 L324.65 73.31 L325.15 73.19 L325.65 73.08 L326.15 72.96 L326.65 72.85 L327.15 72.74 L327.65 72.64 L328.15 72.54 L328.65 72.44 L329.15 72.35 L329.65 72.25 L330.15 72.16 L330.65 72.06 L331.15 71.97 L331.65 71.88 L332.15 71.79 L332.65 71.70 L333.15 71.61 L333.65 71.52 L334.15 71.43 L334.65 71.35 L335.15 71.26 L335.65 71.18 L336.15 71.09 L336.65 71.01 L337.15 70.93 L337.65 70.84 L338.15 70.76 L338.65 70.68 L339.15 70.60 L339.65 70.52 L340.15 70.45 L340.65 70.37 L341.15 70.29 L341.66 70.22 L342.16 70.14 L342.66 70.07 L343.16 70.00 L343.66 69.92 L344.16 69.85 L344.66 69.78 L345.16 69.71 L345.66 69.64 L346.16 69.57 L346.66 69.51 L347.16 69.44 L347.66 69.37 L348.16 69.31 L348.66 69.24 L349.16 69.18 L349.66 69.11 L350.16 69.05 L350.66 68.99 L351.16 68.93 L351.66 68.87 L352.16 68.81 L352.66 68.76 L353.16 68.71 L353.66 68.66 L354.16 68.61 L354.66 68.57 L355.16 68.52 L355.66 68.47 L356.16 68.43 L356.66 68.39 L357.16 68.34 L357.66 68.30 L358.16 68.26 L358.66 68.21 L359.16 68.17 L359.66 68.13 L360.17 68.09 L360.67 68.05 L361.17 68.01 L361.67 67.97 L362.17 67.93 L362.67 67.90 L363.17 67.86 L363.67 67.82 L364.17 67.79 L364.67 67.75 L365.17 67.72 L365.67 67.68 L366.17 67.65 L366.67 67.62 L367.17 67.58 L367.67 67.55 L368.17 67.52 L368.67 67.49 L369.17 67.46 L369.67 67.43 L370.17 67.40 L370.67 67.37 L371.17 67.34 L371.67 67.31 L372.17 67.29 L372.67 67.26 L373.17 67.23 L373.67 67.20 L374.17 67.18 L374.67 67.15 L375.17 67.13 L375.67 67.10 L376.17 67.08 L376.67 67.06 L377.17 67.03 L377.67 67.01 L378.17 66.99 L378.68 66.96 L379.18 66.94 L379.68 66.92 L380.18 66.90 L380.68 66.88 L381.18 66.86 L381.68 66.84 L382.18 66.82 L382.68 66.80 L383.18 66.78 L383.68 66.76 L384.18 66.75 L384.68 66.73 L385.18 66.71 L385.68 66.69 L386.18 66.68 L386.68 66.66 L387.18 66.64 L387.68 66.63 L388.18 66.61 L388.68 66.60 L389.18 66.58 L389.68 66.57 L390.18 66.55 L390.68 66.54 L391.18 66.53 L391.68 66.51 L392.18 66.50 L392.68 66.49 L393.18 66.47 L393.68 66.46 L394.18 66.45 L394.68 66.44 L395.18 66.43 L395.68 66.41 L396.18 66.40 L396.68 66.39 L397.19 66.38 L397.69 66.37 L398.19 66.36 L398.69 66.35 L399.19 66.34 L399.69 66.33 L400.19 66.32 L400.69 66.31 L401.19 66.30 L401.69 66.29 L402.19 66.28 L402.69 66.28 L403.19 66.27 L403.69 66.26 L404.19 66.25 L404.69 66.24 L405.19 66.23 L405.69 66.23 L406.19 66.22 L406.69 66.21 L407.19 66.20 L407.69 66.20 L408.19 66.19 L408.69 66.18 L409.19 66.17 L409.69 66.17 L410.19 66.16 L410.69 66.15 L411.19 66.15 L411.69 66.14 L412.19 66.13 L412.69 66.13 L413.19 66.12 L413.69 66.11 L414.19 66.11 L414.69 66.10 L415.19 66.09 L415.70 66.09 L416.20 66.08 L416.70 66.08 L417.20 66.07 L417.70 66.06 L418.20 66.06 L418.70 66.05 L419.20 66.04 L419.70 66.04 L420.20 66.03 L420.70 66.03 L421.20 66.02 L421.70 66.01 L422.20 66.01 L422.70 66.00 L423.20 65.99 L423.70 65.99 L424.20 65.98 L424.70 65.98" fill="none" stroke="#0000ff" stroke-width="1.05"/>
<path d="M64.10 390.99 L64.60 390.94 L65.10 390.89 L65.60 390.83 L66.10 390.76 L66.60 390.68 L67.10 390.60 L67.60 390.51 L68.10 390.41 L68.60 390.31 L69.10 390.19 L69.60 390.07 L70.10 389.94 L70.50 389.83 M76.30 387.65 L76.80 387.41 L77.30 387.16 L77.80 386.90 L78.30 386.63 L78.80 386.35 L79.30 386.06 L79.80 385.77 L80.30 385.46 L80.80 385.14 L81.30 384.82 L81.80 384.49 L82.30 384.14 L82.40 384.07 M89.50 378.24 L90.00 377.77 L90.50 377.29 L91.00 376.81 L91.50 376.33 L92.00 375.84 L92.50 375.34 M96.40 371.31 L96.90 370.77 L97.40 370.23 L97.90 369.69 L98.40 369.15 L98.90 368.61 L99.40 368.06 L99.90 367.51 L100.40 366.96 L100.90 366.40 L101.40 365.85 L101.80 365.41 M105.80 360.94 L106.30 360.37 L106.80 359.81 L107.30 359.24 L107.80 358.67 L108.30 358.10 L108.80 357.52 L109.30 356.95 L109.80 356.36 L110.00 356.13 M113.80 351.58 L114.30 350.97 L114.80 350.34 L115.30 349.72 L115.80 349.08 L116.30 348.44 L116.80 347.80 L117.30 347.15 L117.80 346.49 L118.30 345.82 L118.80 345.15 M121.10 341.97 L121.60 341.25 L122.10 340.53 L122.60 339.80 L123.10 339.06 L123.60 338.31 L124.10 337.56 L124.60 336.79 L125.10 336.01 L125.60 335.23 L125.90 334.75 M128.00 331.32 L128.50 330.47 L129.00 329.61 L129.50 328.74 L130.00 327.86 L130.50 326.97 L131.00 326.07 L131.50 325.15 L132.00 324.22 L132.10 324.04 M135.60 317.15 L136.10 316.11 L136.60 315.06 L137.10 313.99 L137.60 312.90 L137.80 312.46 M140.70 305.80 L141.20 304.60 L141.70 303.37 L142.20 302.13 L142.70 300.88 L143.20 299.62 L143.70 298.35 L143.80 298.10 M145.40 294.04 L145.90 292.77 L146.40 291.51 L146.90 290.25 L147.40 289.00 L147.90 287.74 L148.40 286.49 L148.90 285.25 L149.40 284.00 L149.90 282.76 L150.40 281.53 L150.90 280.30 L151.40 279.07 L151.90 277.84 L152.40 276.62 L152.90 275.41 L153.40 274.20 L153.90 272.99 L154.40 271.79 L154.90 270.59 L155.40 269.40 L155.90 268.21 L156.40 267.03 L156.90 265.86 L157.40 264.68 L157.90 263.52 L158.40 262.36 L158.90 261.21 L159.40 260.06 L159.90 258.92 L160.40 257.78 L160.90 256.65 L161.40 255.53 L161.90 254.41 L162.40 253.30 L162.90 252.20 M163.50 250.88 L164.00 249.79 L164.50 248.71 M165.90 245.71 L166.40 244.66 L166.90 243.60 L167.40 242.55 L167.90 241.51 L168.40 240.47 L168.90 239.44 L169.40 238.41 L169.90 237.38 L170.40 236.36 L170.90 235.34 L171.40 234.33 L171.90 233.32 L172.40 232.32 L172.90 231.31 L173.40 230.31 L173.90 229.32 L174.40 228.32 M176.50 224.18 L177.00 223.19 L177.50 222.21 L178.00 221.23 L178.50 220.26 L179.00 219.28 L179.50 218.30 L180.00 217.33 L180.50 216.35 L181.00 215.38 L181.50 214.41 L182.00 213.43 L182.50 212.46 L183.00 211.48 L183.50 210.51 L184.00 209.53 L184.50 208.56 L185.00 207.58 L185.50 206.60 L186.00 205.62 L186.50 204.64 L186.60 204.44 M188.60 200.50 L189.10 199.50 L189.60 198.51 L190.10 197.51 L190.60 196.51 L191.10 195.51 L191.60 194.51 L192.10 193.50 L192.60 192.50 L193.10 191.49 L193.60 190.48 L194.10 189.47 L194.60 188.46 L195.10 187.45 L195.60 186.44 L196.10 185.42 L196.60 184.41 L197.10 183.39 L197.60 182.38 L197.90 181.77 M200.80 175.88 L201.30 174.87 L201.80 173.86 L202.30 172.84 L202.80 171.83 L203.30 170.82 L203.80 169.81 L204.30 168.80 L204.80 167.80 L205.30 166.79 L205.80 165.79 L206.30 164.79 L206.80 163.79 L207.30 162.79 L207.80 161.79 L208.30 160.80 L208.80 159.80 L209.30 158.81 L209.70 158.02 M213.30 151.00 L213.80 150.03 L214.30 149.07 L214.80 148.12 L215.30 147.17 L215.80 146.22 L216.30 145.27 L216.80 144.33 L217.30 143.39 L217.80 142.46 L218.30 141.53 L218.80 140.60 L219.30 139.67 L219.80 138.75 L220.30 137.83 L220.80 136.91 L221.30 136.00 L221.80 135.08 L222.00 134.72 M225.80 127.98 L226.30 127.16 L226.80 126.33 L227.30 125.51 L227.80 124.70 L228.30 123.88 L228.80 123.06 L229.30 122.25 L229.80 121.44 L230.30 120.63 L230.80 119.82 L231.30 119.01 L231.80 118.20 L232.30 117.39 L232.80 116.59 L233.30 115.78 L233.80 114.98 L234.30 114.17 L234.80 113.37 L235.30 112.57 L235.80 111.77 L236.30 110.94 L236.60 110.44 M253.60 83.79 L254.10 83.13 L254.60 82.49 L255.10 81.87 L255.60 81.26 L256.10 80.67 L256.60 80.09 L257.10 79.52 L257.60 78.96 L258.10 78.42 L258.60 77.88 L259.10 77.35 L259.60 76.84 L260.10 76.33 L260.60 75.83 L261.10 75.33 L261.60 74.85 L262.10 74.37 L262.60 73.91 L263.10 73.46 L263.60 73.01 L264.10 72.56 L264.60 72.12 L265.10 71.68 L265.60 71.24 L266.10 70.80 L266.60 70.37 L267.10 69.93 L267.60 69.49 L268.10 69.05 L268.60 68.61 L269.10 68.16 L269.40 67.90 M293.90 51.63 L294.40 51.38 L294.90 51.12 L295.40 50.88 L295.90 50.63 L296.40 50.39 L296.90 50.15 L297.40 49.92 L297.90 49.69 L298.40 49.46 L298.90 49.24 L299.40 49.02 L299.90 48.81 L300.10 48.72 M303.20 47.46 L303.70 47.28 L304.20 47.10 L304.70 46.92 L305.20 46.74 L305.70 46.56 L306.20 46.39 L306.70 46.22 L307.20 46.05 L307.70 45.89 L308.20 45.72 L308.70 45.56 L309.20 45.40 L309.70 45.24 L310.20 45.08 L310.70 44.93 L311.20 44.77 L311.70 44.62 L312.20 44.47 L312.70 44.32 L313.20 44.17 L313.70 44.02 L314.20 43.87 L314.70 43.73 L315.20 43.58 L315.70 43.44 L316.20 43.30 L316.70 43.15 L317.20 43.01 L317.70 42.87 L318.20 42.74 L318.70 42.60 L319.20 42.46 L319.70 42.33 L320.20 42.19 L320.70 42.06 L321.20 41.93 L321.70 41.79 L322.20 41.66 L322.70 41.53 L323.20 41.41 L323.70 41.28 L324.20 41.15 L324.50 41.08 M329.40 40.02 L329.90 39.92 L330.40 39.82 L330.90 39.72 L331.40 39.62 L331.90 39.52 L332.40 39.42 L332.90 39.33 L333.40 39.23 L333.90 39.14 L334.40 39.04 L334.90 38.95 L335.40 38.86 L335.90 38.77 L336.40 38.68 L336.90 38.59 L337.40 38.50 L337.90 38.41 L338.40 38.33 L338.90 38.24 L339.40 38.16 L339.90 38.07 L340.40 37.99 L340.90 37.91 L341.40 37.83 L341.90 37.75 L342.40 37.67 L342.90 37.59 L343.40 37.51 L343.90 37.43 L344.40 37.36 L344.90 37.28 L345.40 37.20 L345.90 37.12 L346.40 37.04 L346.90 36.97 L347.40 36.89 L347.90 36.81 L348.40 36.74 L348.90 36.66 L349.40 36.59 L349.90 36.51 L350.40 36.44 L350.90 36.37 L351.00 36.35 M356.10 35.66 L356.60 35.60 L357.10 35.53 L357.60 35.47 L358.10 35.41 L358.60 35.35 L359.10 35.29 L359.60 35.23 L360.10 35.17 L360.60 35.11 L361.10 35.05 L361.60 34.99 L362.10 34.94 L362.60 34.88 L363.10 34.83 L363.60 34.77 L364.10 34.72 L364.60 34.66 L365.10 34.61 L365.60 34.56 L366.10 34.51 L366.60 34.46 L367.10 34.40 L367.60 34.35 L368.10 34.31 L368.60 34.26 L369.10 34.21 L369.60 34.16 L370.10 34.12 L370.60 34.08 L371.10 34.04 L371.60 34.00 L372.10 33.96 L372.60 33.92 L373.10 33.88 L373.60 33.84 L374.10 33.81 L374.60 33.77 L375.10 33.74 L375.60 33.70 L376.10 33.67 L376.60 33.63 M381.70 33.32 L382.20 33.29 L382.70 33.26 L383.20 33.23 L383.70 33.20 L384.20 33.18 L384.70 33.15 L385.20 33.13 L385.70 33.10 L386.20 33.08 L386.70 33.05 L387.20 33.03 L387.70 33.00 L388.20 32.98 L388.70 32.96 L389.20 32.93 L389.70 32.91 L390.20 32.89 L390.70 32.87 L391.20 32.85 L391.70 32.83 L392.20 32.81 L392.70 32.79 L393.20 32.77 L393.70 32.75 L394.20 32.73 L394.70 32.71 L395.20 32.69 L395.70 32.67 L396.20 32.66 L396.70 32.64 L397.20 32.62 L397.70 32.61 L398.20 32.59 L398.70 32.57 L399.20 32.56 L399.70 32.54 L400.20 32.53 L400.70 32.51 L401.20 32.50 L401.70 32.48 L402.20 32.47 L402.70 32.46 L403.20 32.44 L403.60 32.43 M408.70 32.31 L409.20 32.30 L409.70 32.29 L410.20 32.28 L410.70 32.27 L411.20 32.26 L411.70 32.25 L412.20 32.24 L412.70 32.23 L413.20 32.23 L413.70 32.22 L414.20 32.21 L414.70 32.20 L415.20 32.19 L415.70 32.18 L416.20 32.17 L416.70 32.17 L417.20 32.16 L417.70 32.15 L418.20 32.14 L418.70 32.14 L419.20 32.13 L419.70 32.12 L420.20 32.11 L420.70 32.11 L421.20 32.10 L421.70 32.09 L422.20 32.09 L422.70 32.08 L423.20 32.07 L423.70 32.07 L424.20 32.06 L424.70 32.05 L425.20 32.05 L425.70 32.04 L426.20 32.04 L426.70 32.03 L427.20 32.03 L427.70 32.03 L428.10 32.03 M238.70 106.91 L239.20 106.06 L239.70 105.22 L240.20 104.38 L240.70 103.55 L241.20 102.71 L241.70 101.88 L242.20 101.05 L242.70 100.23 L243.20 99.41 L243.70 98.59 L244.20 97.78 L244.70 96.98 L245.20 96.18 L245.70 95.38 L246.20 94.59 L246.70 93.81 L247.20 93.04 L247.70 92.27 L248.20 91.52 L248.70 90.78 L249.20 90.05 L249.70 89.33 L249.90 89.05 M271.30 66.24 L271.80 65.87 L272.30 65.50 L272.80 65.13 L273.30 64.77 L273.80 64.40 L274.30 64.03 L274.80 63.66 L275.30 63.30 L275.80 62.94 L276.30 62.58 L276.80 62.22 L277.30 61.86 L277.50 61.72 M280.00 60.00 L280.50 59.66 L281.00 59.31 L281.50 58.98 L282.00 58.64 L282.50 58.32 L283.00 57.99 L283.50 57.68 L284.00 57.37 L284.50 57.06 L285.00 56.77 L285.50 56.47 L286.00 56.19 L286.50 55.90 L287.00 55.63 L287.50 55.31 L288.00 54.99 L288.50 54.68 L289.00 54.38 L289.50 54.07 L290.00 53.78 L290.50 53.49 L291.00 53.20 L291.30 53.03" fill="none" stroke="#0000ff" stroke-width="1.05"/>
<path d="M46.00 393.90 L46.50 393.90 L47.00 393.90 L47.50 393.90 L48.00 393.90 L48.50 393.90 L49.00 393.90 L49.50 393.90 L50.00 393.90 L50.50 393.90 L51.00 393.90 L51.50 393.90 L52.00 393.90 L52.50 393.90 L53.00 393.90 L53.50 393.90 L54.00 393.90 L54.50 393.90 L55.00 393.90 L55.50 393.90 L56.00 393.90 L56.50 393.90 L57.00 393.90 L57.50 393.90 L58.00 393.90 L58.50 393.90 L59.00 393.90 L59.50 393.90 L60.00 393.90 L60.50 393.90 L61.00 393.90 L61.50 393.90 L62.00 393.90 L62.50 393.90 L63.00 393.90 L63.50 393.90 L64.00 393.90 L64.50 393.90 L65.00 393.90 L65.50 393.90 L66.00 393.90 L66.50 393.90 L67.00 393.90 L67.50 393.90 L68.00 393.90 L68.50 393.90 L69.00 393.90 L69.50 393.90 L70.00 393.90 L70.50 393.90 L71.00 393.90 L71.50 393.90 L72.00 393.90 L72.50 393.90 L73.00 393.90 L73.50 393.90 L74.00 393.90 L74.50 393.90 L75.00 393.90 L75.50 393.90 L76.00 393.90 L76.50 393.90 L77.00 393.90 L77.50 393.90 L78.00 393.90 L78.50 393.90 L79.00 393.90 L79.50 393.90 L80.00 393.90 L80.50 393.90 L81.00 393.90 L81.50 393.90 L82.00 393.90 L82.50 393.90 L83.00 393.90 L83.50 393.90 L84.00 393.90 L84.50 393.90 L85.00 393.90 L85.50 393.90 L86.00 393.90 L86.50 393.90 L87.00 393.90 L87.50 393.90 L88.00 393.90 L88.50 393.90 L89.00 393.90 L89.50 393.90 L90.00 393.90 L90.50 393.90 L91.00 393.90 L91.50 393.90 L92.00 393.90 L92.50 393.90 L93.00 393.90 L93.50 393.90 L94.00 393.90 L94.50 393.90 L95.00 393.90 L95.50 393.90 L96.00 393.90 L96.50 393.90 L97.00 393.90 L97.50 393.90 L98.00 393.90 L98.50 393.90 L99.00 393.90 L99.50 393.90 L100.00 393.90 L100.50 393.90 L101.00 393.90 L101.50 393.90 L102.00 393.90 L102.50 393.90 L103.00 393.90 L103.50 393.90 L104.00 393.90 L104.50 393.90 L105.00 393.90 L105.50 393.90 L106.00 393.90 L106.50 393.90 L107.00 393.90 L107.50 393.90 L108.00 393.90 L108.50 393.90 L109.00 393.90 L109.50 393.90 L110.00 393.90 L110.50 393.90 L111.00 393.90 L111.50 393.90 L112.00 393.90 L112.50 393.90 L113.00 393.90 L113.50 393.90 L114.00 393.90 L114.50 393.90 L115.00 393.90 L115.50 393.90 L116.00 393.90 L116.50 393.90 L117.00 393.90 L117.50 393.90 L118.00 393.90 L118.50 393.90 L119.00 393.90 L119.50 393.90 L120.00 393.90 L120.50 393.90 L121.00 393.90 L121.50 393.90 L122.00 393.90 L122.50 393.90 L123.00 393.90 L123.50 393.90 L124.00 393.90 L124.50 393.90 L125.00 393.90 L125.50 393.90 L126.00 393.90 L126.50 393.90 L127.00 393.90 L127.50 393.90 L128.00 393.90 L128.50 393.90 L129.00 393.90 L129.50 393.90 L130.00 393.90 L130.50 393.90 L131.00 393.90 L131.50 393.90 L132.00 393.90 L132.50 393.90 L133.00 393.90 L133.50 393.90 L134.00 393.90 L134.50 393.90 L135.00 393.90 L135.50 393.90 L136.00 393.90 L136.50 393.90 L137.00 393.90 L137.50 393.90 L138.00 393.90 L138.50 393.90 L139.00 393.90 L139.50 393.90 L140.00 393.90 L140.50 393.90 L141.00 393.90 L141.50 393.90 L142.00 393.90 L142.50 393.90 L143.00 393.90 L143.50 393.90 L144.00 393.90 L144.50 393.90 L145.00 393.90 L145.50 393.90 L146.00 393.90 L146.50 393.90 L147.00 393.90 L147.50 393.90 L148.00 393.90 L148.50 393.90 L149.00 393.90 L149.50 393.90 L150.00 393.90 L150.50 393.90 L151.00 393.90 L151.50 393.90 L152.00 393.90 L152.50 393.90 L153.00 393.90 L153.50 393.90 L154.00 393.90 L154.50 393.90 L155.00 393.90 L155.50 393.90 L156.00 393.90 L156.50 393.90 L157.00 393.90 L157.50 393.90 L158.00 393.90 L158.50 393.90 L159.00 393.90 L159.50 393.90 L160.00 393.90 L160.50 393.90 L161.00 393.90 L161.50 393.90 L162.00 393.90 L162.50 393.90 L163.00 393.90 L163.50 393.90 L164.00 393.90 L164.50 393.90 L165.00 393.90 L165.50 393.90 L166.00 393.90 L166.50 393.90 L167.00 393.90 L167.50 393.90 L168.00 393.90 L168.50 393.90 L169.00 393.90 L169.50 393.90 L170.00 393.90 L170.50 393.90 L171.00 393.90 L171.50 393.90 L172.00 393.90 L172.50 393.90 L173.00 393.90 L173.50 393.90 L174.00 393.90 L174.50 393.90 L175.00 393.90 L175.50 393.90 L176.00 393.90 L176.50 393.90 L177.00 393.90 L177.50 393.90 L178.00 393.90 L178.50 393.90 L179.00 393.90 L179.50 393.90 L180.00 393.90 L180.50 393.90 L181.00 393.90 L181.50 393.90 L182.00 393.90 L182.50 393.90 L183.00 393.90 L183.50 393.90 L184.00 393.90 L184.50 393.90 L185.00 393.90 L185.50 393.90 L186.00 393.90 L186.50 393.90 L187.00 393.90 L187.50 393.90 L188.00 393.90 L188.50 393.90 L189.00 393.90 L189.50 393.90 L190.00 393.74 L190.50 393.55 L191.00 393.35 L191.50 393.15 L192.00 392.95 L192.50 392.76 L193.00 392.56 L193.50 392.36 L194.00 392.17 L194.50 391.97 L195.00 391.77 L195.50 391.58 L196.00 391.38 L196.50 391.18 L197.00 390.99 L197.50 390.79 L198.00 390.59 L198.50 390.40 L199.00 390.20 L199.50 390.00 L200.00 389.80 L200.50 389.61 L201.00 389.41 L201.50 389.21 L202.00 389.02 L202.50 388.82 L203.00 388.62 L203.50 388.43 L204.00 388.23 L204.50 388.03 L205.00 387.84 L205.50 387.64 L206.00 387.44 L206.50 387.25 L207.00 387.05 L207.50 386.85 L208.00 386.65 L208.50 386.46 L209.00 386.18 L209.50 385.57 L210.00 384.96 L210.50 384.35 L211.00 383.75 L211.50 383.14 L212.00 382.53 L212.50 381.92 L213.00 381.31 L213.50 380.71 L214.00 380.10 L214.50 379.49 L215.00 378.88 L215.50 378.27 L216.00 377.67 L216.50 377.06 L217.00 376.45 L217.50 375.84 L218.00 375.23 L218.50 374.63 L219.00 374.02 L219.50 373.41 L220.00 372.80 L220.50 372.19 L221.00 371.59 L221.50 370.98 L222.00 370.37 L222.50 369.76 L223.00 369.15 L223.50 368.55 L224.00 367.94 L224.50 367.33 L225.00 366.72 L225.50 366.11 L226.00 365.51 L226.50 364.90 L227.00 364.29 L227.50 363.68 L228.00 363.07 L228.50 362.46 L229.00 361.72 L229.50 360.77 L230.00 359.81 L230.50 358.85 L231.00 357.88 L231.50 356.90 L232.00 355.92 L232.50 354.94 L233.00 353.95 L233.50 352.61 L234.00 351.26 L234.50 349.91 L235.00 348.66 L235.50 347.56 L236.00 346.46 L236.50 345.35 L237.00 344.23 L237.50 343.12 L238.00 341.99 L238.50 340.87 L239.00 339.74 L239.50 338.60 L240.00 337.46 L240.50 336.32 L241.00 335.17 L241.50 334.02 L242.00 332.87 L242.50 331.71 L243.00 330.55 L243.50 329.39 L244.00 328.22 L244.50 327.07 L245.00 325.92 L245.50 324.76 L246.00 323.60 L246.50 322.43 L247.00 321.26 L247.50 320.09 L248.00 318.92 L248.50 317.75 L249.00 316.57 L249.50 315.39 L250.00 314.21 L250.50 313.02 L251.00 311.84 L251.50 310.65 L252.00 309.46 L252.50 308.27 L253.00 307.07 L253.50 305.88 L254.00 304.68 L254.50 303.48 L255.00 302.28 L255.50 301.13 L256.00 299.99 L256.50 298.84 L257.00 297.68 L257.50 296.53 L258.00 295.38 L258.50 294.23 L259.00 293.07 L259.50 291.92 L260.00 290.76 L260.50 289.61 L261.00 288.45 L261.50 287.29 L262.00 286.14 L262.50 284.98 L263.00 283.83 L263.50 282.67 L264.00 281.52 L264.50 280.36 L265.00 279.21 L265.50 278.06 L266.00 276.91 L266.50 275.76 L267.00 274.62 L267.50 273.48 L268.00 272.33 L268.50 271.20 L269.00 270.06 L269.50 268.92 L270.00 267.79 L270.50 266.66 L271.00 265.53 L271.50 264.41 L272.00 263.29 L272.50 262.17 L273.00 261.05 L273.50 259.94 L274.00 258.83 L274.50 257.73 L275.00 256.63 L275.50 255.53 L276.00 254.44 L276.50 253.35 L277.00 252.27 L277.50 251.19 L278.00 250.12 L278.50 249.15 L279.00 248.20 L279.50 247.24 L280.00 246.30 L280.50 245.36 L281.00 244.42 L281.50 243.49 L282.00 242.57 L282.50 241.65 L283.00 240.74 L283.50 239.83 L284.00 238.93 L284.50 238.04 L285.00 237.15 L285.50 236.27 L286.00 235.40 L286.50 234.54 L287.00 233.71 L287.50 232.92 L288.00 232.13 L288.50 231.35 L289.00 230.57 L289.50 229.81 L290.00 229.05 L290.50 228.30 L291.00 227.56 L291.50 226.84 L292.00 226.13 L292.50 225.42 L293.00 224.73 L293.50 224.04 L294.00 223.37 L294.50 222.70 L295.00 222.04 L295.50 221.25 L296.00 220.46 L296.50 219.68 L297.00 218.91 L297.50 218.16 L298.00 217.41 L298.50 216.68 L299.00 215.95 L299.50 215.24 L300.00 214.53 L300.50 213.84 L301.00 213.15 L301.50 212.48 L302.00 211.81 L302.50 211.17 L303.00 210.53 L303.50 209.91 L304.00 209.29 L304.50 208.68 L305.00 208.09 L305.50 207.50 L306.00 206.92 L306.50 206.34 L307.00 205.78 L307.50 205.22 L308.00 204.68 L308.50 204.14 L309.00 203.61 L309.50 203.08 L310.00 202.57 L310.50 202.06 L311.00 201.56 L311.50 201.06 L312.00 200.58 L312.50 200.10 L313.00 199.63 L313.50 199.16 L314.00 198.70 L314.50 198.25 L315.00 197.80 L315.50 197.36 L316.00 196.93 L316.50 196.48 L317.00 196.04 L317.50 195.60 L318.00 195.17 L318.50 194.75 L319.00 194.33 L319.50 193.91 L320.00 193.51 L320.50 193.10 L321.00 192.70 L321.50 192.31 L322.00 191.92 L322.50 191.53 L323.00 191.15 L323.50 190.77 L324.00 190.40 L324.50 190.03 L325.00 189.67 L325.50 189.30 L326.00 188.95 L326.50 188.59 L327.00 188.24 L327.50 187.90 L328.00 187.56 L328.50 187.22 L329.00 186.89 L329.50 186.56 L330.00 186.23 L330.50 185.91 L331.00 185.58 L331.50 185.27 L332.00 184.95 L332.50 184.64 L333.00 184.33 L333.50 184.02 L334.00 183.72 L334.50 183.42 L335.00 183.12 L335.50 182.83 L336.00 182.54 L336.50 182.25 L337.00 181.96 L337.50 181.68 L338.00 181.40 L338.50 181.12 L339.00 180.85 L339.50 180.58 L340.00 180.31 L340.50 180.04 L341.00 179.78 L341.50 179.52 L342.00 179.26 L342.50 179.01 L343.00 178.76 L343.50 178.51 L344.00 178.26 L344.50 178.01 L345.00 177.77 L345.50 177.53 L346.00 177.30 L346.50 177.06 L347.00 176.83 L347.50 176.60 L348.00 176.38 L348.50 176.15 L349.00 175.93 L349.50 175.71 L350.00 175.50 L350.50 175.28 L351.00 175.07 L351.50 174.86 L352.00 174.66 L352.50 174.46 L353.00 174.26 L353.50 174.06 L354.00 173.87 L354.50 173.68 L355.00 173.49 L355.50 173.31 L356.00 173.12 L356.50 172.94 L357.00 172.76 L357.50 172.58 L358.00 172.41 L358.50 172.24 L359.00 172.07 L359.50 171.90 L360.00 171.73 L360.50 171.57 L361.00 171.41 L361.50 171.25 L362.00 171.09 L362.50 170.93 L363.00 170.78 L363.50 170.63 L364.00 170.48 L364.50 170.33 L365.00 170.19 L365.50 170.04 L366.00 169.90 L366.50 169.76 L367.00 169.63 L367.50 169.49 L368.00 169.36 L368.50 169.23 L369.00 169.10 L369.50 168.97 L370.00 168.84 L370.50 168.72 L371.00 168.59 L371.50 168.47 L372.00 168.36 L372.50 168.24 L373.00 168.12 L373.50 168.01 L374.00 167.90 L374.50 167.79 L375.00 167.68 L375.50 167.57 L376.00 167.47 L376.50 167.36 L377.00 167.26 L377.50 167.16 L378.00 167.05 L378.50 166.95 L379.00 166.85 L379.50 166.75 L380.00 166.65 L380.50 166.56 L381.00 166.46 L381.50 166.37 L382.00 166.28 L382.50 166.19 L383.00 166.10 L383.50 166.01 L384.00 165.92 L384.50 165.84 L385.00 165.75 L385.50 165.67 L386.00 165.59 L386.50 165.51 L387.00 165.44 L387.50 165.36 L388.00 165.28 L388.50 165.21 L389.00 165.14 L389.50 165.07 L390.00 164.99 L390.50 164.93 L391.00 164.86 L391.50 164.79 L392.00 164.73 L392.50 164.66 L393.00 164.60 L393.50 164.54 L394.00 164.47 L394.50 164.41 L395.00 164.36 L395.50 164.29 L396.00 164.23 L396.50 164.16 L397.00 164.10 L397.50 164.04 L398.00 163.98 L398.50 163.92 L399.00 163.86 L399.50 163.80 L400.00 163.74 L400.50 163.69 L401.00 163.63 L401.50 163.58 L402.00 163.53 L402.50 163.47 L403.00 163.42 L403.50 163.37 L404.00 163.32 L404.50 163.27 L405.00 163.22 L405.50 163.18 L406.00 163.13 L406.50 163.08 L407.00 163.04 L407.50 162.99 L408.00 162.95 L408.50 162.91 L409.00 162.86 L409.50 162.82 L410.00 162.78 L410.50 162.74 L411.00 162.71 L411.50 162.67 L412.00 162.64 L412.50 162.60 L413.00 162.57 L413.50 162.54 L414.00 162.50 L414.50 162.47 L415.00 162.44 L415.50 162.41 L416.00 162.38 L416.50 162.35 L417.00 162.32 L417.50 162.29 L418.00 162.26 L418.50 162.23 L419.00 162.20 L419.50 162.18 L420.00 162.15 L420.50 162.12 L421.00 162.09 L421.50 162.07 L422.00 162.04 L422.50 162.01 L423.00 161.99 L423.50 161.96 L424.00 161.93 L424.50 161.91 L425.00 161.88 L425.50 161.86 L426.00 161.83 L426.50 161.81 L427.00 161.78 L427.50 161.77 L428.00 161.76" fill="none" stroke="#00ff00" stroke-width="1.05"/>
<path d="M153.09 393.90 L153.10 393.90 L153.60 393.90 L154.10 393.90 L154.60 393.90 L155.10 393.90 L155.60 393.90 L156.10 393.90 L156.60 393.90 L157.10 393.90 L157.60 393.90 L158.10 393.90 L158.60 393.90 L159.10 393.90 L159.60 393.90 L160.09 393.90 M165.79 393.90 L165.81 393.90 L166.31 393.90 L166.81 393.90 L167.31 393.90 L167.81 393.90 L168.31 393.90 L168.81 393.90 L169.31 393.90 L169.81 393.90 L170.31 393.90 L170.81 393.90 L171.31 393.90 L171.81 393.90 L172.31 393.90 L172.79 393.90 M178.49 393.90 L178.51 393.90 L179.01 393.90 L179.51 393.90 L180.01 393.90 L180.51 393.90 L181.01 393.90 L181.51 393.90 L182.01 393.90 L182.51 393.90 L183.01 393.90 L183.51 393.90 L184.01 393.90 L184.51 393.90 L185.01 393.90 L185.49 393.90 M191.08 393.32 L191.11 393.30 L191.62 393.11 L192.12 392.91 L192.62 392.71 L193.12 392.52 L193.62 392.32 L194.12 392.12 L194.62 391.92 L195.12 391.73 L195.62 391.53 L196.12 391.33 L196.62 391.14 L197.12 390.94 L197.60 390.75 M202.90 388.66 L202.92 388.66 L203.42 388.46 L203.92 388.26 L204.42 388.06 L204.92 387.87 L205.42 387.67 L205.92 387.47 L206.42 387.28 L206.92 387.08 L207.42 386.88 L207.92 386.69 L208.42 386.49 L208.92 386.27 L209.25 385.87 M212.87 381.47 L212.92 381.41 L213.42 380.80 L213.92 380.19 L214.42 379.58 L214.92 378.97 L215.42 378.37 L215.92 377.76 L216.42 377.15 L216.92 376.54 L217.32 376.06 M220.94 371.66 L221.03 371.55 L221.53 370.95 L222.03 370.34 L222.53 369.73 L223.03 369.12 L223.53 368.51 L224.03 367.90 L224.53 367.30 L225.03 366.69 L225.38 366.25 M228.95 361.81 L229.03 361.66 L229.53 360.71 L230.03 359.74 L230.53 358.78 L231.03 357.81 L231.53 356.84 L232.03 355.86 L232.16 355.59 M234.36 350.34 L234.43 350.14 L234.93 348.87 L235.43 347.79 L235.93 346.72 L236.43 345.64 L236.93 344.55 L237.21 343.95 M239.57 338.76 L239.63 338.62 L240.13 337.51 L240.63 336.39 L241.13 335.27 L241.63 334.15 L242.13 333.02 L242.42 332.37 M244.71 327.15 L244.73 327.09 L245.23 325.94 L245.73 324.79 L246.23 323.64 L246.73 322.48 L247.24 321.31 L247.49 320.73 M249.71 315.48 L249.74 315.41 L250.24 314.21 L250.74 313.01 L251.24 311.80 L251.74 310.59 L252.24 309.37 L252.39 309.01 M254.54 303.73 L254.64 303.49 L255.14 302.27 L255.64 301.09 L256.14 299.90 L256.64 298.72 L257.14 297.53 L257.24 297.27 M259.45 292.02 L259.54 291.79 L260.04 290.59 L260.54 289.40 L261.04 288.20 L261.54 287.00 L262.04 285.80 L262.14 285.56 M264.34 280.30 L264.34 280.29 L264.84 279.09 L265.34 277.90 L265.84 276.70 L266.34 275.52 L266.84 274.33 L267.05 273.84 M269.27 268.59 L269.34 268.43 L269.84 267.26 L270.34 266.09 L270.84 264.93 L271.34 263.76 L271.84 262.61 L272.04 262.16 M274.32 256.94 L274.34 256.89 L274.85 255.77 L275.35 254.64 L275.85 253.53 L276.35 252.42 L276.85 251.31 L277.19 250.56 M279.72 245.45 L279.75 245.41 L280.25 244.46 L280.75 243.52 L281.25 242.58 L281.75 241.66 L282.25 240.74 L282.75 239.83 L283.05 239.29 M285.88 234.34 L285.95 234.22 L286.45 233.38 L286.95 232.58 L287.45 231.81 L287.95 231.05 L288.45 230.30 L288.95 229.56 L289.45 228.83 L289.70 228.48 M293.06 223.88 L293.15 223.76 L293.65 223.12 L294.15 222.48 L294.65 221.86 L295.15 221.19 L295.65 220.43 L296.15 219.68 L296.65 218.94 L297.15 218.21 M300.45 213.56 L300.45 213.55 L300.95 212.88 L301.45 212.21 L301.95 211.55 L302.46 210.90 L302.96 210.27 L303.46 209.64 L303.96 209.02 L304.46 208.41 L304.76 208.04 M308.47 203.72 L308.56 203.62 L309.06 203.07 L309.56 202.52 L310.06 201.98 L310.56 201.44 L311.06 200.92 L311.56 200.39 L312.06 199.87 L312.56 199.36 L313.06 198.86 L313.28 198.63 M317.37 194.66 L317.46 194.57 L317.96 194.10 L318.46 193.63 L318.96 193.16 L319.46 192.70 L319.96 192.25 L320.46 191.80 L320.96 191.35 L321.46 190.91 L321.96 190.47 L322.46 190.04 L322.55 189.96 M326.96 186.35 L326.96 186.34 L327.46 185.96 L327.96 185.57 L328.46 185.19 L328.96 184.82 L329.46 184.45 L329.97 184.08 L330.47 183.72 L330.97 183.36 L331.47 183.01 L331.97 182.66 L332.47 182.31 L332.61 182.21 M337.39 179.11 L337.47 179.07 L337.97 178.76 L338.47 178.46 L338.97 178.17 L339.47 177.87 L339.97 177.59 L340.47 177.30 L340.97 177.02 L341.47 176.74 L341.97 176.47 L342.47 176.20 L342.97 175.93 L343.47 175.66 L343.48 175.66 M348.60 173.15 L348.67 173.11 L349.17 172.89 L349.67 172.66 L350.17 172.44 L350.67 172.22 L351.17 172.01 L351.67 171.80 L352.17 171.59 L352.67 171.38 L353.17 171.17 L353.67 170.96 L354.17 170.76 L354.67 170.56 L355.04 170.41 M360.39 168.46 L360.48 168.43 L360.98 168.27 L361.48 168.10 L361.98 167.94 L362.48 167.78 L362.98 167.62 L363.48 167.47 L363.98 167.32 L364.48 167.17 L364.98 167.02 L365.48 166.87 L365.98 166.73 L366.48 166.59 L366.98 166.45 L367.09 166.42 M372.61 165.02 L372.68 165.01 L373.18 164.89 L373.68 164.78 L374.18 164.67 L374.68 164.56 L375.18 164.45 L375.68 164.35 L376.18 164.24 L376.68 164.14 L377.18 164.04 L377.68 163.95 L378.18 163.85 L378.68 163.76 L379.18 163.67 L379.47 163.61 M385.09 162.69 L385.19 162.68 L385.69 162.60 L386.19 162.53 L386.69 162.46 L387.19 162.39 L387.69 162.32 L388.19 162.25 L388.69 162.18 L389.19 162.11 L389.69 162.05 L390.19 161.98 L390.69 161.92 L391.19 161.85 L391.69 161.79 L392.03 161.75 M397.70 161.17 L397.79 161.16 L398.29 161.13 L398.79 161.09 L399.29 161.05 L399.79 161.01 L400.29 160.97 L400.79 160.93 L401.29 160.90 L401.79 160.86 L402.29 160.82 L402.79 160.79 L403.29 160.75 L403.79 160.71 L404.29 160.68 L404.68 160.65 M410.37 160.24 L410.39 160.24 L410.89 160.21 L411.39 160.17 L411.89 160.13 L412.39 160.09 L412.90 160.06 L413.40 160.02 L413.90 159.98 L414.40 159.94 L414.90 159.90 L415.40 159.86 L415.90 159.82 L416.40 159.78 L416.90 159.74 L417.34 159.70 M423.02 159.18 L423.10 159.17 L423.60 159.12 L424.10 159.07 L424.60 159.02 L425.10 158.96 L425.60 158.91 L426.10 158.89 L426.40 158.89" fill="none" stroke="#00ff00" stroke-width="1.05"/>
<path d="M150.00 393.90 L150.10 393.90 L150.60 393.90 L151.10 393.90 L151.60 393.90 L152.10 393.90 L152.60 393.90 L153.10 393.90 L153.60 393.90 L154.10 393.90 L154.60 393.90 L155.10 393.90 L155.60 393.90 L156.10 393.90 L156.60 393.90 L157.10 393.90 L157.30 393.90 M163.30 393.90 L163.30 393.90 L163.80 393.90 L164.31 393.90 L164.80 393.90 M170.80 393.90 L170.81 393.90 L171.31 393.90 L171.81 393.90 L172.31 393.90 L172.81 393.90 L173.31 393.90 L173.81 393.90 L174.31 393.90 L174.81 393.90 L175.31 393.90 L175.81 393.90 L176.31 393.90 L176.81 393.90 L177.31 393.90 L177.81 393.90 L178.31 393.90 L178.81 393.90 L179.31 393.90 L179.81 393.90 L180.31 393.90 L180.81 393.90 L181.31 393.90 L181.81 393.90 L182.31 393.90 L182.81 393.90 L183.31 393.90 L183.81 393.90 L184.30 393.90 M190.25 393.64 L190.31 393.62 L190.81 393.42 L191.31 393.22 L191.65 393.09 M197.23 390.90 L197.32 390.86 L197.82 390.66 L198.32 390.47 L198.82 390.27 L199.32 390.07 L199.82 389.88 L200.32 389.68 L200.82 389.48 L201.32 389.29 L201.82 389.09 L202.32 388.89 L202.82 388.69 L203.32 388.50 L203.82 388.30 L204.32 388.10 L204.82 387.91 L205.32 387.71 L205.82 387.51 L206.32 387.32 L206.82 387.12 L207.32 386.92 L207.82 386.72 L208.32 386.53 L208.82 386.33 L209.32 385.79 L209.51 385.56 M213.32 380.92 L213.32 380.92 L213.82 380.31 L214.27 379.76 M218.09 375.13 L218.12 375.08 L218.62 374.47 L219.12 373.87 L219.63 373.26 L220.13 372.65 L220.63 372.04 L221.13 371.43 L221.63 370.82 L222.13 370.22 L222.63 369.61 L223.13 369.00 L223.63 368.39 L224.13 367.78 L224.63 367.17 L225.13 366.57 L225.63 365.96 L226.13 365.35 L226.63 364.74 L226.66 364.70 M229.85 359.69 L229.93 359.51 L230.43 358.34 L230.44 358.31 M232.75 352.77 L232.83 352.57 L233.33 351.17 L233.83 349.66 L234.33 348.14 L234.83 346.64 L235.33 345.42 L235.83 344.19 L236.33 342.95 L236.83 341.71 L237.33 340.46 L237.46 340.13 M239.66 334.54 L239.73 334.36 L240.20 333.14 M242.36 327.55 L242.43 327.35 L242.93 326.04 L243.43 324.73 L243.93 323.41 L244.43 322.14 L244.93 320.86 L245.43 319.59 L245.93 318.31 L246.43 317.03 L246.93 315.76 L247.25 314.96 M249.43 309.37 L249.44 309.37 L249.94 308.10 L249.98 307.98 M252.18 302.40 L252.24 302.26 L252.74 300.99 L253.24 299.73 L253.74 298.47 L254.24 297.22 L254.74 295.97 L255.24 294.68 L255.74 293.33 L256.24 291.99 L256.74 290.66 L257.06 289.81 M259.18 284.20 L259.24 284.04 L259.72 282.80 M261.87 277.20 L261.94 277.02 L262.44 275.71 L262.94 274.40 L263.44 273.10 L263.94 271.80 L264.44 270.50 L264.94 269.21 L265.44 267.92 L265.94 266.63 L266.44 265.35 L266.73 264.60 M268.93 259.02 L268.94 258.99 L269.44 257.72 L269.48 257.62 M271.82 252.10 L271.84 252.04 L272.34 250.89 L272.84 249.74 L273.34 248.59 L273.84 247.44 L274.34 246.30 L274.84 245.16 L275.35 244.02 L275.85 242.88 L276.35 241.75 L276.85 240.62 L277.24 239.73 M279.68 234.25 L279.75 234.09 L280.25 232.98 L280.29 232.88 M282.78 227.42 L282.85 227.29 L283.35 226.21 L283.85 225.15 L284.35 224.10 L284.85 223.05 L285.35 222.02 L285.85 221.00 L286.35 219.99 L286.85 218.99 L287.35 218.01 L287.85 217.04 L288.35 216.08 L288.76 215.32 M291.70 210.09 L291.75 210.01 L292.25 209.17 L292.47 208.81 M295.69 203.74 L295.75 203.65 L296.25 202.90 L296.75 202.16 L297.25 201.43 L297.75 200.71 L298.25 200.00 L298.75 199.29 L299.25 198.58 L299.75 197.88 L300.25 197.19 L300.75 196.50 L301.25 195.81 L301.75 195.13 L302.25 194.45 L302.76 193.77 L303.26 193.09 L303.51 192.74 M307.11 187.94 L307.16 187.87 L307.66 187.21 L308.02 186.74 M311.74 182.04 L311.76 182.01 L312.26 181.40 L312.76 180.80 L313.26 180.21 L313.76 179.62 L314.26 179.04 L314.76 178.46 L315.26 177.89 L315.76 177.33 L316.26 176.77 L316.76 176.22 L317.26 175.68 L317.76 175.14 L318.26 174.61 L318.76 174.08 L319.26 173.56 L319.76 173.04 L320.26 172.54 L320.76 172.03 L320.78 172.02 M325.12 167.88 L325.16 167.85 L325.66 167.40 L326.16 166.96 L326.24 166.89 M330.87 163.07 L330.97 163.01 L331.47 162.64 L331.97 162.28 L332.47 161.93 L332.97 161.58 L333.47 161.23 L333.97 160.89 L334.47 160.56 L334.97 160.23 L335.47 159.90 L335.97 159.57 L336.47 159.26 L336.97 158.94 L337.47 158.63 L337.97 158.32 L338.47 158.02 L338.97 157.72 L339.47 157.43 L339.97 157.14 L340.47 156.85 L340.97 156.57 L341.47 156.29 L341.97 156.02 L342.27 155.85 M347.62 153.15 L347.67 153.13 L348.17 152.89 L348.67 152.66 L348.98 152.52 M354.46 150.06 L354.47 150.05 L354.97 149.82 L355.47 149.60 L355.97 149.38 L356.47 149.16 L356.97 148.95 L357.47 148.73 L357.97 148.52 L358.48 148.31 L358.98 148.11 L359.48 147.91 L359.98 147.70 L360.48 147.51 L360.98 147.31 L361.48 147.12 L361.98 146.93 L362.48 146.74 L362.98 146.55 L363.48 146.37 L363.98 146.18 L364.48 146.00 L364.98 145.83 L365.48 145.65 L365.98 145.48 L366.48 145.31 L366.98 145.14 L367.02 145.13 M372.74 143.34 L372.78 143.33 L373.28 143.19 L373.78 143.05 L374.19 142.94 M380.00 141.45 L380.08 141.43 L380.58 141.31 L381.08 141.20 L381.58 141.08 L382.08 140.97 L382.58 140.86 L383.08 140.75 L383.58 140.64 L384.08 140.54 L384.58 140.43 L385.08 140.33 L385.58 140.23 L386.09 140.13 L386.59 140.03 L387.09 139.94 L387.59 139.84 L388.09 139.75 L388.59 139.65 L389.09 139.56 L389.59 139.47 L390.09 139.38 L390.59 139.30 L391.09 139.21 L391.59 139.12 L392.09 139.04 L392.59 138.96 L393.09 138.88 L393.25 138.85 M399.18 137.98 L399.19 137.97 L399.69 137.91 L400.19 137.84 L400.67 137.78 M406.61 136.96 L406.69 136.95 L407.19 136.88 L407.69 136.81 L408.19 136.75 L408.69 136.68 L409.19 136.62 L409.69 136.56 L410.19 136.49 L410.69 136.43 L411.19 136.37 L411.69 136.31 L412.19 136.25 L412.69 136.19 L413.19 136.13 L413.69 136.07 L414.20 136.01 L414.70 135.95 L415.20 135.89 L415.70 135.83 L416.20 135.77 L416.70 135.72 L417.20 135.66 L417.70 135.60 L418.20 135.55 L418.70 135.49 L419.20 135.43 L419.70 135.38 L420.01 135.34 M425.98 134.68 L426.00 134.68 L426.50 134.63 L427.00 134.57 L427.47 134.56" fill="none" stroke="#00ff00" stroke-width="1.05"/>
<g stroke="#1c1c1c" stroke-width="1.1" fill="none">
<path d="M40.45 1.0 V394.4 M432.5 1.0 V394.4 M39.95 1.5 H433.0 M39.95 393.9 H433.0"/>
<path d="M40.45 393.9 v-6.5 M40.45 1.5 v6.5 M432.5 393.90 h-6.5 M79.66 393.9 v-3.7 M79.66 1.5 v3.7 M432.5 354.63 h-3.7 M118.86 393.9 v-6.5 M118.86 1.5 v6.5 M432.5 315.36 h-6.5 M158.06 393.9 v-3.7 M158.06 1.5 v3.7 M432.5 276.09 h-3.7 M197.27 393.9 v-6.5 M197.27 1.5 v6.5 M432.5 236.82 h-6.5 M236.47 393.9 v-3.7 M236.47 1.5 v3.7 M432.5 197.55 h-3.7 M275.68 393.9 v-6.5 M275.68 1.5 v6.5 M432.5 158.28 h-6.5 M314.88 393.9 v-3.7 M314.88 1.5 v3.7 M432.5 119.01 h-3.7 M354.09 393.9 v-6.5 M354.09 1.5 v6.5 M432.5 79.74 h-6.5 M393.29 393.9 v-3.7 M393.29 1.5 v3.7 M432.5 40.47 h-3.7 M432.50 393.9 v-6.5 M432.50 1.5 v6.5 M432.5 1.20 h-6.5 M40.45 393.90 h6.5 M40.45 342.27 h3.7 M40.45 290.64 h6.5 M40.45 239.01 h3.7 M40.45 187.37 h6.5 M40.45 135.74 h3.7 M40.45 84.11 h6.5 M40.45 32.48 h3.7"/>
</g>
<path d="M46 393.9 H190" fill="none" stroke="#78c878" stroke-width="1.1" stroke-opacity="0.5"/>
<path d="M55.3 393.4 L58.6 393.2" fill="none" stroke="#0000ff" stroke-width="1.2" stroke-opacity="0.75"/>
</svg>
<div class="t" style="transform:translate(28.30px,388.15px) rotate(0.03deg) scaleX(0.96)">0</div>
<div class="t" style="transform:translate(18.80px,284.49px) rotate(0.03deg) scaleX(0.96)">0.1</div>
<div class="t" style="transform:translate(18.80px,181.33px) rotate(0.03deg) scaleX(0.96)">0.2</div>
<div class="t" style="transform:translate(18.80px,78.18px) rotate(0.03deg) scaleX(0.96)">0.3</div>
<div class="t" style="transform:translate(35.40px,400.70px) rotate(0.03deg) scaleX(0.96)">-2</div>
<div class="t" style="transform:translate(115.80px,400.70px) rotate(0.03deg) scaleX(0.96)">0</div>
<div class="t" style="transform:translate(194.20px,400.70px) rotate(0.03deg) scaleX(0.96)">2</div>
<div class="t" style="transform:translate(272.60px,400.70px) rotate(0.03deg) scaleX(0.96)">4</div>
<div class="t" style="transform:translate(351.00px,400.70px) rotate(0.03deg) scaleX(0.96)">6</div>
<div class="t" style="transform:translate(429.40px,400.70px) rotate(0.03deg) scaleX(0.96)">8</div>
<div class="t" style="transform:translate(219.00px,414.55px) rotate(0.03deg) scaleX(0.96)">ln(1/<span class="sf" style="font-size:0.93em">&Lambda;</span>)</div>
<div class="t" style="transform:translate(101.80px,290.25px) rotate(0.03deg) scaleX(0.89)">AF</div>
<div class="t" style="transform:translate(150.60px,321.65px) rotate(0.03deg) scaleX(0.92)">dSC</div>
<div class="t" style="transform:translate(245.30px,347.55px) rotate(0.03deg) scaleX(0.92)">F</div>
<div class="t sf" style="transform:translate(-2.1px,194.3px) rotate(-90deg) scale(-1.28,1.0);font-size:11px">&chi;</div>
</div></body></html>
